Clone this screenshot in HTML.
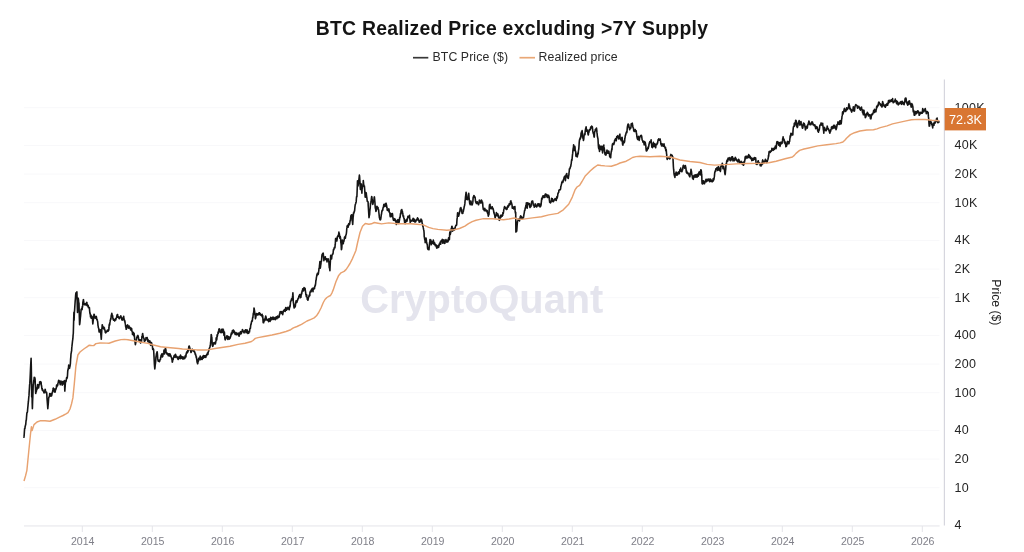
<!DOCTYPE html>
<html><head><meta charset="utf-8"><title>BTC Realized Price excluding &gt;7Y Supply</title>
<style>
html,body{margin:0;padding:0;background:#fff;}
body{width:1024px;height:552px;position:relative;overflow:hidden;font-family:"Liberation Sans",sans-serif;}
.title{position:absolute;left:0;top:15.5px;width:1024px;text-align:center;font-weight:bold;font-size:19.4px;line-height:24px;color:#141414;letter-spacing:0.25px;white-space:nowrap;}
.legend{position:absolute;left:0;top:49px;width:1024px;height:16px;font-size:12.3px;letter-spacing:0.09px;line-height:16px;color:#2a2a2a;white-space:nowrap;}
.legend span{position:absolute;top:0;}
.legend i{position:absolute;display:block;height:1.7px;top:7.8px;}
svg text{font-family:"Liberation Sans",sans-serif;}
.xl{font-size:10.6px;fill:#7f7f88;}
.yl{font-size:12.5px;letter-spacing:0.3px;fill:#262626;}
.tag{font-size:12.6px;fill:#fff;}
.at{font-size:12.2px;fill:#222;}
</style></head><body>
<div class="title">BTC Realized Price excluding &gt;7Y Supply</div>
<div class="legend"><span style="left:432.5px">BTC Price ($)</span><span style="left:538.5px">Realized price</span></div>
<svg width="1024" height="552" viewBox="0 0 1024 552" style="position:absolute;left:0;top:0">
<line x1="24" x2="939.5" y1="525.5" y2="525.5" stroke="#f8f8fa" stroke-width="1"/>
<line x1="24" x2="939.5" y1="487.7" y2="487.7" stroke="#f8f8fa" stroke-width="1"/>
<line x1="24" x2="939.5" y1="459.1" y2="459.1" stroke="#f8f8fa" stroke-width="1"/>
<line x1="24" x2="939.5" y1="430.5" y2="430.5" stroke="#f8f8fa" stroke-width="1"/>
<line x1="24" x2="939.5" y1="392.7" y2="392.7" stroke="#f8f8fa" stroke-width="1"/>
<line x1="24" x2="939.5" y1="364.1" y2="364.1" stroke="#f8f8fa" stroke-width="1"/>
<line x1="24" x2="939.5" y1="335.5" y2="335.5" stroke="#f8f8fa" stroke-width="1"/>
<line x1="24" x2="939.5" y1="297.7" y2="297.7" stroke="#f8f8fa" stroke-width="1"/>
<line x1="24" x2="939.5" y1="269.1" y2="269.1" stroke="#f8f8fa" stroke-width="1"/>
<line x1="24" x2="939.5" y1="240.5" y2="240.5" stroke="#f8f8fa" stroke-width="1"/>
<line x1="24" x2="939.5" y1="202.7" y2="202.7" stroke="#f8f8fa" stroke-width="1"/>
<line x1="24" x2="939.5" y1="174.1" y2="174.1" stroke="#f8f8fa" stroke-width="1"/>
<line x1="24" x2="939.5" y1="145.5" y2="145.5" stroke="#f8f8fa" stroke-width="1"/>
<line x1="24" x2="939.5" y1="107.7" y2="107.7" stroke="#f8f8fa" stroke-width="1"/>
<text x="481.8" y="312.6" text-anchor="middle" font-family="'Liberation Sans',sans-serif" font-weight="bold" font-size="40" fill="#e4e4ed" textLength="243" lengthAdjust="spacingAndGlyphs">CryptoQuant</text>
<line x1="24" x2="939.6" y1="526" y2="526" stroke="#e7e7ec" stroke-width="1.2"/>
<line x1="944.4" x2="944.4" y1="79.5" y2="525.5" stroke="#d6d6de" stroke-width="1.2"/>
<line x1="82.3" x2="82.3" y1="526" y2="532" stroke="#e4e4e9" stroke-width="1"/>
<text x="82.7" y="544.8" text-anchor="middle" class="xl">2014</text>
<line x1="152.3" x2="152.3" y1="526" y2="532" stroke="#e4e4e9" stroke-width="1"/>
<text x="152.7" y="544.8" text-anchor="middle" class="xl">2015</text>
<line x1="222.3" x2="222.3" y1="526" y2="532" stroke="#e4e4e9" stroke-width="1"/>
<text x="222.7" y="544.8" text-anchor="middle" class="xl">2016</text>
<line x1="292.3" x2="292.3" y1="526" y2="532" stroke="#e4e4e9" stroke-width="1"/>
<text x="292.7" y="544.8" text-anchor="middle" class="xl">2017</text>
<line x1="362.3" x2="362.3" y1="526" y2="532" stroke="#e4e4e9" stroke-width="1"/>
<text x="362.7" y="544.8" text-anchor="middle" class="xl">2018</text>
<line x1="432.3" x2="432.3" y1="526" y2="532" stroke="#e4e4e9" stroke-width="1"/>
<text x="432.7" y="544.8" text-anchor="middle" class="xl">2019</text>
<line x1="502.3" x2="502.3" y1="526" y2="532" stroke="#e4e4e9" stroke-width="1"/>
<text x="502.7" y="544.8" text-anchor="middle" class="xl">2020</text>
<line x1="572.3" x2="572.3" y1="526" y2="532" stroke="#e4e4e9" stroke-width="1"/>
<text x="572.7" y="544.8" text-anchor="middle" class="xl">2021</text>
<line x1="642.3" x2="642.3" y1="526" y2="532" stroke="#e4e4e9" stroke-width="1"/>
<text x="642.7" y="544.8" text-anchor="middle" class="xl">2022</text>
<line x1="712.3" x2="712.3" y1="526" y2="532" stroke="#e4e4e9" stroke-width="1"/>
<text x="712.7" y="544.8" text-anchor="middle" class="xl">2023</text>
<line x1="782.3" x2="782.3" y1="526" y2="532" stroke="#e4e4e9" stroke-width="1"/>
<text x="782.7" y="544.8" text-anchor="middle" class="xl">2024</text>
<line x1="852.3" x2="852.3" y1="526" y2="532" stroke="#e4e4e9" stroke-width="1"/>
<text x="852.7" y="544.8" text-anchor="middle" class="xl">2025</text>
<line x1="922.3" x2="922.3" y1="526" y2="532" stroke="#e4e4e9" stroke-width="1"/>
<text x="922.7" y="544.8" text-anchor="middle" class="xl">2026</text>
<text x="954.6" y="529.4" class="yl">4</text>
<text x="954.6" y="491.6" class="yl">10</text>
<text x="954.6" y="463.0" class="yl">20</text>
<text x="954.6" y="434.4" class="yl">40</text>
<text x="954.6" y="396.6" class="yl">100</text>
<text x="954.6" y="368.0" class="yl">200</text>
<text x="954.6" y="339.4" class="yl">400</text>
<text x="954.6" y="301.6" class="yl">1K</text>
<text x="954.6" y="273.0" class="yl">2K</text>
<text x="954.6" y="244.4" class="yl">4K</text>
<text x="954.6" y="206.6" class="yl">10K</text>
<text x="954.6" y="178.0" class="yl">20K</text>
<text x="954.6" y="149.4" class="yl">40K</text>
<text x="954.6" y="111.6" class="yl">100K</text>
<path d="M23.8 437.8 L24.0 436.7 L24.2 434.8 L24.4 431.6 L24.6 428.5 L24.8 428.8 L25.0 428.3 L25.1 426.6 L25.3 426.1 L25.5 425.0 L25.7 424.7 L25.9 422.5 L26.1 420.4 L26.3 420.2 L26.5 417.5 L26.7 415.1 L26.9 412.8 L27.1 412.6 L27.3 412.4 L27.5 411.3 L27.6 409.8 L27.8 407.5 L28.0 405.6 L28.2 403.1 L28.4 401.7 L28.6 399.4 L28.8 397.0 L29.0 395.4 L29.2 391.4 L29.4 388.6 L29.6 385.1 L29.8 383.4 L29.9 381.9 L30.1 378.1 L30.3 374.1 L30.5 369.4 L30.7 365.1 L30.9 361.5 L31.1 358.3 L31.3 366.2 L31.5 380.6 L31.7 397.0 L31.9 396.0 L32.1 394.8 L32.2 402.5 L32.4 408.6 L32.6 401.2 L32.8 397.0 L33.0 391.2 L33.2 385.2 L33.4 384.2 L33.6 382.0 L33.8 380.3 L34.0 379.9 L34.2 377.4 L34.4 377.8 L34.5 377.9 L34.7 377.5 L34.9 378.2 L35.1 379.1 L35.3 384.8 L35.5 388.5 L35.7 393.5 L35.9 392.4 L36.1 392.1 L36.3 391.5 L36.5 390.5 L36.7 387.7 L36.8 388.8 L37.0 389.4 L37.2 388.3 L37.4 386.0 L37.6 384.6 L37.8 385.6 L38.0 387.3 L38.2 386.7 L38.4 387.1 L38.6 388.0 L38.8 386.7 L39.0 385.4 L39.1 384.9 L39.3 384.4 L39.5 383.7 L39.7 381.9 L39.9 381.7 L40.1 381.7 L40.3 381.6 L40.5 383.6 L40.7 382.8 L40.9 382.3 L41.1 382.2 L41.3 384.8 L41.5 386.0 L41.6 385.8 L41.8 388.2 L42.0 389.0 L42.2 388.6 L42.4 390.5 L42.6 389.5 L42.8 389.7 L43.0 390.6 L43.2 391.0 L43.4 391.1 L43.6 391.7 L43.8 391.3 L43.9 392.7 L44.1 392.9 L44.3 391.7 L44.5 391.4 L44.7 392.1 L44.9 390.9 L45.1 389.3 L45.3 389.5 L45.5 391.2 L45.7 391.7 L45.9 392.2 L46.1 392.9 L46.2 391.9 L46.4 393.2 L46.6 392.3 L46.8 394.0 L47.0 398.1 L47.2 400.8 L47.4 403.1 L47.6 405.6 L47.8 408.6 L48.0 406.5 L48.2 404.4 L48.4 401.9 L48.5 400.2 L48.7 398.0 L48.9 397.3 L49.1 397.2 L49.3 396.3 L49.5 395.6 L49.7 393.5 L49.9 393.6 L50.1 394.5 L50.3 395.3 L50.5 395.8 L50.7 395.3 L50.8 396.1 L51.0 396.1 L51.2 393.6 L51.4 395.5 L51.6 395.9 L51.8 394.9 L52.0 393.8 L52.2 392.9 L52.4 392.6 L52.6 391.3 L52.8 390.3 L53.0 390.8 L53.1 388.4 L53.3 388.0 L53.5 388.5 L53.7 388.6 L53.9 388.8 L54.1 388.8 L54.3 391.5 L54.5 391.9 L54.7 390.9 L54.9 392.1 L55.1 392.1 L55.3 391.1 L55.5 390.3 L55.6 388.8 L55.8 389.6 L56.0 389.0 L56.2 388.5 L56.4 387.0 L56.6 385.0 L56.8 386.8 L57.0 384.8 L57.2 385.8 L57.4 384.6 L57.6 385.6 L57.8 384.9 L57.9 383.3 L58.1 382.9 L58.3 382.2 L58.5 380.9 L58.7 380.3 L58.9 381.5 L59.1 381.1 L59.3 381.2 L59.5 382.6 L59.7 381.0 L59.9 383.2 L60.1 383.5 L60.2 384.8 L60.4 384.2 L60.6 383.0 L60.8 382.2 L61.0 381.0 L61.2 382.0 L61.4 383.0 L61.6 381.9 L61.8 382.8 L62.0 383.8 L62.2 385.2 L62.4 383.9 L62.5 383.1 L62.7 381.6 L62.9 382.5 L63.1 382.6 L63.3 383.9 L63.5 383.3 L63.7 381.9 L63.9 382.9 L64.1 381.5 L64.3 380.6 L64.5 380.9 L64.7 387.7 L64.8 391.1 L65.0 388.2 L65.2 385.9 L65.4 382.5 L65.6 382.1 L65.8 380.6 L66.0 381.6 L66.2 380.5 L66.4 379.0 L66.6 377.6 L66.8 377.8 L67.0 378.5 L67.1 377.5 L67.3 377.4 L67.5 375.2 L67.7 371.7 L67.9 369.8 L68.1 370.0 L68.3 368.3 L68.5 368.0 L68.7 365.1 L68.9 365.8 L69.1 367.3 L69.3 368.3 L69.5 368.4 L69.6 368.1 L69.8 366.5 L70.0 366.3 L70.2 365.0 L70.4 363.3 L70.6 359.1 L70.8 357.2 L71.0 353.8 L71.2 353.1 L71.4 351.6 L71.6 351.0 L71.8 347.4 L71.9 346.7 L72.1 344.8 L72.3 343.1 L72.5 341.2 L72.7 339.8 L72.9 338.2 L73.1 335.0 L73.3 333.5 L73.5 326.4 L73.7 318.8 L73.9 312.4 L74.1 320.2 L74.2 317.0 L74.4 312.2 L74.6 310.1 L74.8 306.9 L75.0 303.8 L75.2 300.9 L75.4 298.8 L75.6 295.9 L75.8 293.6 L76.0 292.7 L76.2 295.5 L76.4 297.4 L76.5 297.7 L76.7 294.6 L76.9 291.9 L77.1 298.7 L77.3 306.3 L77.5 312.4 L77.7 307.8 L77.9 301.6 L78.1 298.1 L78.3 298.5 L78.5 299.8 L78.7 302.5 L78.8 302.5 L79.0 303.4 L79.2 311.8 L79.4 318.8 L79.6 324.7 L79.8 323.7 L80.0 321.6 L80.2 319.5 L80.4 317.4 L80.6 315.8 L80.8 313.1 L81.0 311.1 L81.1 309.4 L81.3 310.1 L81.5 309.4 L81.7 308.4 L81.9 308.9 L82.1 309.6 L82.3 306.5 L82.5 307.1 L82.7 305.4 L82.9 301.9 L83.1 301.7 L83.3 299.8 L83.5 299.7 L83.6 301.5 L83.8 302.6 L84.0 303.4 L84.2 304.5 L84.4 304.7 L84.6 304.5 L84.8 303.8 L85.0 303.9 L85.2 303.9 L85.4 304.8 L85.6 304.9 L85.8 303.9 L85.9 303.6 L86.1 304.2 L86.3 304.9 L86.5 302.9 L86.7 302.4 L86.9 302.5 L87.1 305.7 L87.3 305.7 L87.5 305.9 L87.7 304.9 L87.9 305.2 L88.1 305.9 L88.2 305.6 L88.4 307.8 L88.6 307.1 L88.8 307.0 L89.0 307.9 L89.2 308.0 L89.4 307.6 L89.6 310.4 L89.8 312.5 L90.0 313.6 L90.2 314.1 L90.4 315.2 L90.5 316.9 L90.7 315.5 L90.9 314.9 L91.1 316.5 L91.3 318.3 L91.5 317.1 L91.7 317.1 L91.9 316.3 L92.1 316.5 L92.3 318.3 L92.5 319.0 L92.7 322.2 L92.8 323.9 L93.0 322.4 L93.2 320.4 L93.4 319.5 L93.6 318.1 L93.8 316.1 L94.0 314.2 L94.2 314.5 L94.4 315.2 L94.6 316.4 L94.8 316.6 L95.0 317.4 L95.1 317.9 L95.3 318.2 L95.5 317.9 L95.7 317.7 L95.9 317.2 L96.1 316.9 L96.3 316.4 L96.5 317.4 L96.7 319.4 L96.9 319.8 L97.1 319.5 L97.3 319.9 L97.5 320.9 L97.6 321.3 L97.8 323.0 L98.0 325.6 L98.2 326.3 L98.4 328.0 L98.6 328.0 L98.8 328.8 L99.0 331.2 L99.2 332.0 L99.4 330.2 L99.6 330.2 L99.8 331.1 L99.9 331.5 L100.1 330.6 L100.3 329.7 L100.5 332.1 L100.7 333.1 L100.9 334.9 L101.1 337.4 L101.3 339.3 L101.5 335.2 L101.7 331.8 L101.9 328.3 L102.1 327.0 L102.2 324.7 L102.4 325.1 L102.6 326.5 L102.8 326.5 L103.0 327.0 L103.2 327.2 L103.4 328.5 L103.6 327.1 L103.8 327.0 L104.0 328.4 L104.2 329.4 L104.4 327.9 L104.5 329.4 L104.7 329.7 L104.9 329.8 L105.1 330.9 L105.3 332.5 L105.5 332.7 L105.7 332.8 L105.9 332.1 L106.1 331.7 L106.3 332.1 L106.5 331.7 L106.7 331.6 L106.8 331.2 L107.0 330.9 L107.2 330.9 L107.4 330.1 L107.6 330.9 L107.8 331.3 L108.0 331.1 L108.2 331.1 L108.4 330.0 L108.6 330.6 L108.8 329.8 L109.0 327.7 L109.1 325.7 L109.3 324.3 L109.5 324.0 L109.7 325.0 L109.9 322.7 L110.1 321.7 L110.3 320.2 L110.5 319.8 L110.7 318.6 L110.9 319.2 L111.1 317.1 L111.3 315.0 L111.5 315.7 L111.6 314.5 L111.8 313.2 L112.0 314.2 L112.2 315.3 L112.4 315.6 L112.6 315.5 L112.8 317.8 L113.0 318.8 L113.2 319.5 L113.4 319.9 L113.6 320.1 L113.8 319.6 L113.9 319.5 L114.1 320.2 L114.3 320.1 L114.5 320.5 L114.7 321.0 L114.9 320.5 L115.1 319.9 L115.3 318.8 L115.5 319.6 L115.7 320.0 L115.9 319.3 L116.1 318.7 L116.2 318.3 L116.4 317.6 L116.6 317.6 L116.8 316.1 L117.0 315.2 L117.2 314.7 L117.4 314.9 L117.6 314.5 L117.8 316.6 L118.0 317.1 L118.2 316.5 L118.4 317.4 L118.5 317.1 L118.7 316.9 L118.9 318.2 L119.1 318.4 L119.3 318.6 L119.5 318.1 L119.7 317.4 L119.9 317.2 L120.1 317.8 L120.3 317.6 L120.5 317.4 L120.7 316.4 L120.8 315.9 L121.0 316.3 L121.2 317.4 L121.4 317.8 L121.6 318.5 L121.8 319.5 L122.0 319.6 L122.2 320.1 L122.4 320.0 L122.6 319.4 L122.8 319.8 L123.0 317.7 L123.1 318.1 L123.3 317.2 L123.5 317.2 L123.7 316.2 L123.9 318.7 L124.1 319.6 L124.3 319.5 L124.5 320.8 L124.7 320.4 L124.9 322.0 L125.1 322.7 L125.3 323.9 L125.5 324.9 L125.6 326.3 L125.8 327.2 L126.0 327.5 L126.2 329.3 L126.4 327.9 L126.6 328.6 L126.8 328.1 L127.0 325.8 L127.2 325.7 L127.4 325.5 L127.6 324.9 L127.8 325.4 L127.9 326.7 L128.1 327.0 L128.3 327.0 L128.5 326.8 L128.7 328.2 L128.9 327.0 L129.1 326.0 L129.3 326.6 L129.5 326.9 L129.7 328.0 L129.9 327.2 L130.1 328.5 L130.2 328.4 L130.4 329.0 L130.6 329.9 L130.8 329.3 L131.0 328.1 L131.2 328.3 L131.4 329.1 L131.6 328.4 L131.8 330.1 L132.0 331.5 L132.2 331.7 L132.4 332.3 L132.5 334.5 L132.7 332.5 L132.9 332.8 L133.1 332.3 L133.3 333.2 L133.5 333.5 L133.7 335.6 L133.9 334.3 L134.1 333.3 L134.3 335.0 L134.5 336.9 L134.7 339.8 L134.8 339.9 L135.0 341.7 L135.2 343.1 L135.4 344.7 L135.6 343.3 L135.8 342.9 L136.0 341.4 L136.2 341.3 L136.4 339.8 L136.6 338.7 L136.8 337.5 L137.0 336.9 L137.1 337.0 L137.3 336.0 L137.5 336.9 L137.7 335.8 L137.9 335.4 L138.1 336.0 L138.3 336.9 L138.5 338.0 L138.7 339.3 L138.9 340.1 L139.1 340.5 L139.3 340.8 L139.5 341.0 L139.6 339.7 L139.8 341.1 L140.0 341.9 L140.2 339.8 L140.4 342.4 L140.6 342.9 L140.8 342.7 L141.0 342.5 L141.2 342.0 L141.4 342.2 L141.6 340.2 L141.8 338.6 L141.9 336.2 L142.1 336.4 L142.3 335.7 L142.5 334.1 L142.7 333.5 L142.9 335.5 L143.1 335.8 L143.3 337.4 L143.5 337.7 L143.7 337.9 L143.9 338.6 L144.1 339.0 L144.2 340.1 L144.4 341.3 L144.6 341.1 L144.8 340.4 L145.0 340.8 L145.2 340.7 L145.4 339.7 L145.6 340.4 L145.8 339.5 L146.0 337.5 L146.2 337.8 L146.4 338.2 L146.5 338.8 L146.7 337.7 L146.9 337.9 L147.1 337.5 L147.3 338.6 L147.5 339.1 L147.7 339.6 L147.9 341.6 L148.1 340.5 L148.3 339.9 L148.5 341.9 L148.7 341.4 L148.8 341.8 L149.0 341.6 L149.2 341.1 L149.4 342.5 L149.6 342.5 L149.8 340.9 L150.0 341.3 L150.2 342.2 L150.4 343.4 L150.6 345.1 L150.8 345.3 L151.0 344.1 L151.1 344.1 L151.3 344.4 L151.5 342.6 L151.7 343.6 L151.9 344.8 L152.1 344.7 L152.3 345.2 L152.5 347.3 L152.7 349.5 L152.9 348.9 L153.1 348.4 L153.3 349.3 L153.5 349.2 L153.6 349.5 L153.8 352.7 L154.0 356.4 L154.2 360.1 L154.4 364.1 L154.6 366.7 L154.8 368.9 L155.0 367.5 L155.2 364.9 L155.4 363.9 L155.6 362.1 L155.8 360.0 L155.9 357.2 L156.1 356.3 L156.3 355.0 L156.5 353.5 L156.7 353.7 L156.9 352.4 L157.1 351.7 L157.3 352.7 L157.5 355.1 L157.7 358.4 L157.9 359.7 L158.1 360.7 L158.2 361.2 L158.4 360.1 L158.6 360.3 L158.8 360.8 L159.0 360.2 L159.2 361.4 L159.4 361.7 L159.6 361.4 L159.8 360.2 L160.0 360.0 L160.2 359.4 L160.4 359.7 L160.5 359.1 L160.7 357.1 L160.9 357.4 L161.1 355.0 L161.3 355.5 L161.5 355.3 L161.7 355.0 L161.9 353.9 L162.1 355.0 L162.3 356.9 L162.5 356.7 L162.7 356.3 L162.8 356.1 L163.0 353.9 L163.2 354.1 L163.4 354.2 L163.6 352.9 L163.8 352.2 L164.0 350.1 L164.2 351.0 L164.4 351.0 L164.6 353.9 L164.8 352.6 L165.0 352.5 L165.1 351.1 L165.3 348.5 L165.5 348.1 L165.7 348.9 L165.9 350.0 L166.1 351.4 L166.3 352.6 L166.5 352.5 L166.7 353.1 L166.9 353.6 L167.1 354.1 L167.3 353.5 L167.5 353.4 L167.6 353.9 L167.8 353.6 L168.0 354.1 L168.2 355.6 L168.4 354.3 L168.6 354.0 L168.8 355.2 L169.0 354.3 L169.2 354.2 L169.4 355.9 L169.6 354.6 L169.8 354.5 L169.9 353.9 L170.1 354.0 L170.3 354.4 L170.5 356.2 L170.7 355.5 L170.9 355.7 L171.1 356.8 L171.3 357.3 L171.5 358.0 L171.7 358.1 L171.9 359.3 L172.1 360.2 L172.2 362.0 L172.4 362.1 L172.6 361.2 L172.8 359.5 L173.0 359.6 L173.2 359.4 L173.4 357.6 L173.6 357.6 L173.8 357.2 L174.0 355.9 L174.2 356.3 L174.4 355.4 L174.5 356.5 L174.7 356.6 L174.9 357.0 L175.1 357.3 L175.3 356.4 L175.5 354.2 L175.7 355.1 L175.9 355.9 L176.1 355.7 L176.3 357.0 L176.5 356.7 L176.7 356.4 L176.8 356.9 L177.0 356.6 L177.2 357.9 L177.4 357.0 L177.6 358.3 L177.8 358.8 L178.0 359.2 L178.2 359.4 L178.4 358.4 L178.6 358.1 L178.8 358.3 L179.0 357.6 L179.1 356.6 L179.3 357.1 L179.5 357.3 L179.7 356.6 L179.9 356.9 L180.1 358.7 L180.3 356.8 L180.5 355.1 L180.7 357.6 L180.9 358.2 L181.1 358.3 L181.3 357.3 L181.5 356.6 L181.6 356.9 L181.8 357.9 L182.0 357.7 L182.2 356.7 L182.4 357.7 L182.6 358.7 L182.8 358.0 L183.0 359.1 L183.2 358.6 L183.4 358.3 L183.6 357.1 L183.8 357.0 L183.9 357.1 L184.1 357.6 L184.3 357.8 L184.5 358.6 L184.7 358.7 L184.9 358.1 L185.1 357.1 L185.3 355.6 L185.5 355.6 L185.7 355.2 L185.9 356.9 L186.1 354.3 L186.2 354.2 L186.4 353.5 L186.6 352.2 L186.8 352.8 L187.0 351.9 L187.2 351.4 L187.4 352.8 L187.6 352.0 L187.8 350.3 L188.0 351.7 L188.2 350.5 L188.4 349.8 L188.5 348.9 L188.7 348.0 L188.9 346.2 L189.1 346.0 L189.3 346.0 L189.5 347.2 L189.7 347.4 L189.9 349.0 L190.1 350.0 L190.3 349.1 L190.5 349.5 L190.7 350.5 L190.8 351.7 L191.0 352.5 L191.2 352.4 L191.4 351.5 L191.6 351.1 L191.8 350.6 L192.0 350.7 L192.2 349.4 L192.4 349.9 L192.6 350.5 L192.8 349.6 L193.0 349.7 L193.1 350.1 L193.3 350.8 L193.5 351.1 L193.7 350.6 L193.9 350.4 L194.1 351.7 L194.3 351.4 L194.5 351.4 L194.7 352.5 L194.9 352.5 L195.1 353.5 L195.3 354.6 L195.5 354.6 L195.6 354.0 L195.8 355.5 L196.0 355.8 L196.2 357.4 L196.4 356.8 L196.6 358.9 L196.8 359.4 L197.0 361.6 L197.2 362.5 L197.4 361.9 L197.6 363.8 L197.8 363.5 L197.9 362.4 L198.1 361.8 L198.3 361.8 L198.5 359.1 L198.7 358.3 L198.9 359.6 L199.1 358.4 L199.3 359.8 L199.5 358.3 L199.7 358.6 L199.9 358.1 L200.1 356.5 L200.2 356.1 L200.4 357.7 L200.6 359.6 L200.8 358.7 L201.0 358.2 L201.2 359.2 L201.4 358.6 L201.6 358.3 L201.8 357.4 L202.0 359.4 L202.2 359.4 L202.4 358.3 L202.5 357.3 L202.7 356.2 L202.9 358.3 L203.1 358.3 L203.3 358.0 L203.5 355.6 L203.7 356.8 L203.9 357.2 L204.1 357.4 L204.3 356.7 L204.5 357.3 L204.7 355.9 L204.8 356.4 L205.0 355.8 L205.2 356.1 L205.4 355.7 L205.6 356.1 L205.8 357.4 L206.0 356.1 L206.2 355.5 L206.4 355.9 L206.6 355.4 L206.8 354.2 L207.0 355.0 L207.1 354.8 L207.3 354.1 L207.5 353.0 L207.7 352.9 L207.9 354.4 L208.1 352.7 L208.3 351.9 L208.5 351.3 L208.7 351.1 L208.9 349.7 L209.1 348.9 L209.3 348.8 L209.5 348.3 L209.6 347.8 L209.8 347.2 L210.0 347.2 L210.2 345.4 L210.4 345.5 L210.6 342.4 L210.8 341.0 L211.0 338.3 L211.2 334.5 L211.4 335.0 L211.6 336.4 L211.8 337.1 L211.9 338.7 L212.1 342.1 L212.3 344.4 L212.5 346.0 L212.7 346.4 L212.9 346.1 L213.1 345.3 L213.3 344.4 L213.5 343.4 L213.7 342.7 L213.9 342.8 L214.1 342.6 L214.2 342.5 L214.4 342.6 L214.6 342.5 L214.8 343.9 L215.0 343.9 L215.2 343.7 L215.4 343.8 L215.6 342.9 L215.8 341.6 L216.0 340.9 L216.2 337.9 L216.4 339.7 L216.5 339.0 L216.7 340.0 L216.9 338.2 L217.1 334.7 L217.3 336.3 L217.5 335.3 L217.7 334.0 L217.9 333.4 L218.1 332.0 L218.3 333.4 L218.5 331.7 L218.7 330.4 L218.8 329.6 L219.0 329.3 L219.2 328.7 L219.4 329.3 L219.6 329.1 L219.8 329.7 L220.0 332.0 L220.2 332.1 L220.4 331.9 L220.6 331.4 L220.8 332.4 L221.0 332.6 L221.1 332.2 L221.3 332.2 L221.5 331.2 L221.7 329.4 L221.9 330.4 L222.1 332.5 L222.3 331.8 L222.5 330.5 L222.7 329.7 L222.9 329.0 L223.1 329.8 L223.3 330.6 L223.4 329.9 L223.6 331.4 L223.8 333.7 L224.0 335.3 L224.2 333.4 L224.4 332.0 L224.6 334.7 L224.8 337.5 L225.0 339.3 L225.2 339.8 L225.4 338.3 L225.6 338.1 L225.7 339.0 L225.9 337.5 L226.1 337.8 L226.3 337.4 L226.5 336.8 L226.7 336.6 L226.9 335.7 L227.1 335.8 L227.3 337.0 L227.5 338.6 L227.7 339.3 L227.8 339.5 L228.0 338.9 L228.2 338.3 L228.4 337.2 L228.6 336.6 L228.8 336.8 L229.0 337.0 L229.2 339.0 L229.4 339.1 L229.6 338.5 L229.8 337.9 L230.0 338.0 L230.1 338.1 L230.3 337.1 L230.5 337.0 L230.7 336.2 L230.9 335.5 L231.1 334.8 L231.3 333.1 L231.5 333.2 L231.7 333.1 L231.9 333.4 L232.1 333.8 L232.2 331.8 L232.4 330.6 L232.6 331.2 L232.8 331.3 L233.0 330.7 L233.2 330.6 L233.4 330.0 L233.6 331.8 L233.8 332.6 L234.0 332.3 L234.2 331.0 L234.3 331.1 L234.5 332.1 L234.7 332.6 L234.9 333.4 L235.1 334.4 L235.3 333.0 L235.5 333.8 L235.7 334.5 L235.9 333.1 L236.1 332.7 L236.3 333.1 L236.5 334.4 L236.6 334.8 L236.8 333.9 L237.0 334.0 L237.2 333.5 L237.4 334.2 L237.6 333.9 L237.8 334.3 L238.0 334.1 L238.2 333.0 L238.4 334.7 L238.6 334.9 L238.7 334.9 L238.9 335.7 L239.1 336.2 L239.3 335.6 L239.5 333.9 L239.7 333.1 L239.9 332.7 L240.1 334.1 L240.3 332.0 L240.5 331.8 L240.7 331.7 L240.9 332.7 L241.0 332.6 L241.2 333.6 L241.4 333.4 L241.6 332.4 L241.8 331.9 L242.0 331.1 L242.2 331.5 L242.4 329.6 L242.6 329.7 L242.8 331.0 L243.0 330.7 L243.1 331.0 L243.3 331.5 L243.5 331.8 L243.7 331.5 L243.9 332.7 L244.1 332.8 L244.3 331.4 L244.5 330.7 L244.7 330.8 L244.9 330.7 L245.1 330.8 L245.3 330.8 L245.4 329.9 L245.6 329.9 L245.8 332.1 L246.0 332.0 L246.2 332.7 L246.4 331.9 L246.6 332.4 L246.8 332.1 L247.0 329.8 L247.2 330.6 L247.4 330.8 L247.5 331.2 L247.7 332.6 L247.9 333.5 L248.1 332.1 L248.3 331.8 L248.5 332.7 L248.7 333.2 L248.9 331.6 L249.1 331.4 L249.3 332.0 L249.5 331.9 L249.6 330.8 L249.8 329.1 L250.0 328.3 L250.2 328.4 L250.4 328.4 L250.6 326.3 L250.8 324.6 L251.0 324.6 L251.2 323.8 L251.4 322.5 L251.6 321.4 L251.8 320.8 L251.9 321.1 L252.1 320.5 L252.3 321.1 L252.5 318.9 L252.7 317.4 L252.9 317.6 L253.1 315.2 L253.3 313.3 L253.5 314.2 L253.7 311.9 L253.9 310.6 L254.0 308.0 L254.2 308.7 L254.4 310.0 L254.6 311.4 L254.8 313.0 L255.0 314.7 L255.2 315.5 L255.4 318.8 L255.6 318.0 L255.8 317.4 L256.0 315.9 L256.2 314.5 L256.3 314.0 L256.5 313.6 L256.7 313.5 L256.9 314.0 L257.1 314.9 L257.3 314.3 L257.5 313.9 L257.7 314.2 L257.9 314.9 L258.1 313.8 L258.3 314.8 L258.4 314.5 L258.6 313.4 L258.8 313.7 L259.0 312.9 L259.2 314.1 L259.4 313.1 L259.6 312.9 L259.8 314.5 L260.0 314.0 L260.2 315.0 L260.4 313.9 L260.6 314.7 L260.7 315.0 L260.9 314.8 L261.1 315.3 L261.3 315.2 L261.5 315.6 L261.7 314.8 L261.9 314.7 L262.1 314.3 L262.3 316.9 L262.5 315.7 L262.7 315.5 L262.8 317.2 L263.0 320.1 L263.2 322.6 L263.4 321.6 L263.6 322.8 L263.8 321.4 L264.0 321.6 L264.2 319.3 L264.4 319.6 L264.6 319.0 L264.8 319.5 L265.0 320.5 L265.1 319.4 L265.3 318.4 L265.5 316.9 L265.7 316.0 L265.9 316.5 L266.1 318.1 L266.3 318.7 L266.5 319.3 L266.7 320.0 L266.9 319.7 L267.1 319.5 L267.2 320.0 L267.4 320.1 L267.6 320.4 L267.8 320.4 L268.0 319.9 L268.2 319.1 L268.4 320.0 L268.6 321.7 L268.8 320.5 L269.0 320.2 L269.2 318.8 L269.3 320.2 L269.5 320.2 L269.7 319.9 L269.9 321.1 L270.1 321.4 L270.3 320.4 L270.5 319.1 L270.7 317.2 L270.9 318.1 L271.1 319.6 L271.3 319.2 L271.5 318.3 L271.6 318.2 L271.8 319.6 L272.0 318.9 L272.2 318.1 L272.4 317.7 L272.6 318.2 L272.8 317.9 L273.0 317.1 L273.2 317.6 L273.4 319.4 L273.6 319.0 L273.7 318.5 L273.9 318.5 L274.1 317.6 L274.3 318.1 L274.5 318.2 L274.7 319.2 L274.9 319.4 L275.1 318.6 L275.3 319.6 L275.5 318.3 L275.7 317.5 L275.9 317.5 L276.0 317.7 L276.2 316.7 L276.4 317.6 L276.6 317.8 L276.8 318.8 L277.0 318.4 L277.2 317.1 L277.4 316.6 L277.6 316.2 L277.8 316.5 L278.0 316.3 L278.1 317.8 L278.3 316.8 L278.5 316.5 L278.7 317.0 L278.9 317.1 L279.1 317.2 L279.3 315.7 L279.5 314.0 L279.7 314.7 L279.9 313.2 L280.1 311.7 L280.3 311.6 L280.4 312.4 L280.6 312.6 L280.8 312.7 L281.0 311.8 L281.2 311.6 L281.4 313.1 L281.6 312.3 L281.8 313.3 L282.0 311.8 L282.2 312.9 L282.4 313.5 L282.5 314.3 L282.7 314.7 L282.9 313.4 L283.1 312.4 L283.3 311.8 L283.5 310.6 L283.7 311.4 L283.9 311.1 L284.1 310.8 L284.3 311.0 L284.5 309.6 L284.6 309.6 L284.8 309.6 L285.0 310.0 L285.2 311.4 L285.4 310.2 L285.6 308.3 L285.8 307.5 L286.0 307.8 L286.2 309.8 L286.4 310.2 L286.6 309.6 L286.8 309.8 L286.9 309.5 L287.1 308.5 L287.3 308.0 L287.5 309.0 L287.7 308.5 L287.9 307.2 L288.1 308.2 L288.3 308.1 L288.5 309.0 L288.7 308.6 L288.9 307.5 L289.0 308.1 L289.2 309.8 L289.4 308.3 L289.6 307.7 L289.8 305.9 L290.0 307.0 L290.2 305.7 L290.4 303.4 L290.6 301.1 L290.8 301.3 L291.0 301.0 L291.2 301.0 L291.3 300.0 L291.5 298.9 L291.7 298.8 L291.9 300.0 L292.1 299.3 L292.3 298.6 L292.5 296.8 L292.7 295.4 L292.9 292.7 L293.1 296.6 L293.3 302.0 L293.5 303.5 L293.6 303.6 L293.8 305.9 L294.0 307.3 L294.2 307.9 L294.4 306.3 L294.6 305.4 L294.8 306.3 L295.0 307.1 L295.2 306.5 L295.4 305.7 L295.6 302.7 L295.8 303.3 L295.9 301.8 L296.1 300.7 L296.3 302.1 L296.5 302.6 L296.7 302.1 L296.9 302.3 L297.1 301.7 L297.3 300.5 L297.5 300.5 L297.7 299.3 L297.9 299.2 L298.1 299.0 L298.2 298.2 L298.4 298.6 L298.6 298.1 L298.8 296.3 L299.0 296.1 L299.2 296.1 L299.4 295.1 L299.6 295.3 L299.8 294.5 L300.0 296.1 L300.2 295.7 L300.4 296.5 L300.5 297.6 L300.7 296.2 L300.9 297.3 L301.1 295.4 L301.3 294.6 L301.5 293.0 L301.7 293.8 L301.9 292.5 L302.1 290.9 L302.3 290.9 L302.5 290.9 L302.7 288.8 L302.8 289.1 L303.0 289.9 L303.2 290.9 L303.4 290.9 L303.6 290.2 L303.8 289.6 L304.0 287.5 L304.2 288.6 L304.4 288.8 L304.6 288.1 L304.8 289.8 L305.0 289.5 L305.1 288.4 L305.3 290.5 L305.5 291.7 L305.7 292.9 L305.9 294.9 L306.1 294.6 L306.3 296.6 L306.5 296.2 L306.7 294.9 L306.9 296.7 L307.1 297.2 L307.3 299.3 L307.5 298.7 L307.6 299.6 L307.8 300.1 L308.0 300.2 L308.2 298.8 L308.4 298.1 L308.6 297.2 L308.8 296.8 L309.0 295.7 L309.2 295.9 L309.4 294.9 L309.6 295.9 L309.8 295.6 L309.9 292.8 L310.1 291.8 L310.3 292.2 L310.5 291.1 L310.7 291.2 L310.9 291.9 L311.1 291.8 L311.3 290.2 L311.5 289.5 L311.7 289.2 L311.9 289.8 L312.1 290.5 L312.2 288.8 L312.4 288.2 L312.6 288.8 L312.8 290.6 L313.0 291.6 L313.2 288.8 L313.4 289.4 L313.6 288.9 L313.8 288.2 L314.0 287.7 L314.2 287.5 L314.4 288.3 L314.5 288.7 L314.7 286.5 L314.9 286.7 L315.1 285.3 L315.3 285.6 L315.5 284.5 L315.7 282.8 L315.9 280.4 L316.1 280.2 L316.3 278.4 L316.5 276.9 L316.7 276.5 L316.8 274.9 L317.0 274.6 L317.2 274.3 L317.4 273.2 L317.6 274.9 L317.8 273.9 L318.0 273.8 L318.2 274.2 L318.4 273.5 L318.6 271.7 L318.8 270.8 L319.0 268.3 L319.1 268.2 L319.3 268.2 L319.5 265.4 L319.7 263.8 L319.9 261.6 L320.1 265.6 L320.3 268.1 L320.5 266.8 L320.7 265.2 L320.9 264.1 L321.1 261.9 L321.3 261.6 L321.5 260.4 L321.6 259.8 L321.8 256.6 L322.0 255.2 L322.2 254.2 L322.4 254.2 L322.6 253.7 L322.8 254.0 L323.0 253.4 L323.2 253.1 L323.4 255.0 L323.6 257.4 L323.8 258.8 L323.9 260.7 L324.1 259.7 L324.3 258.6 L324.5 257.4 L324.7 258.7 L324.9 258.4 L325.1 258.3 L325.3 256.7 L325.5 258.4 L325.7 259.2 L325.9 259.5 L326.1 259.9 L326.2 259.0 L326.4 259.6 L326.6 258.7 L326.8 260.2 L327.0 262.0 L327.2 260.7 L327.4 260.2 L327.6 259.7 L327.8 259.5 L328.0 258.9 L328.2 260.1 L328.4 259.1 L328.5 260.8 L328.7 261.0 L328.9 262.1 L329.1 265.2 L329.3 267.6 L329.5 267.7 L329.7 269.0 L329.9 270.6 L330.1 266.3 L330.3 262.8 L330.5 259.3 L330.7 255.2 L330.8 256.9 L331.0 257.2 L331.2 258.9 L331.4 258.9 L331.6 258.9 L331.8 256.8 L332.0 255.3 L332.2 254.8 L332.4 254.2 L332.6 253.9 L332.8 254.2 L333.0 253.4 L333.1 253.2 L333.3 250.8 L333.5 249.4 L333.7 249.1 L333.9 249.7 L334.1 248.4 L334.3 247.6 L334.5 247.4 L334.7 247.2 L334.9 247.8 L335.1 245.7 L335.3 244.2 L335.5 240.0 L335.6 238.5 L335.8 239.1 L336.0 238.2 L336.2 238.6 L336.4 239.0 L336.6 239.8 L336.8 241.0 L337.0 240.0 L337.2 238.6 L337.4 236.5 L337.6 236.5 L337.8 236.1 L337.9 236.6 L338.1 235.3 L338.3 236.3 L338.5 235.3 L338.7 233.8 L338.9 232.1 L339.1 233.8 L339.3 233.5 L339.5 235.0 L339.7 236.6 L339.9 238.3 L340.1 237.6 L340.2 236.3 L340.4 237.3 L340.6 238.5 L340.8 242.3 L341.0 243.3 L341.2 245.7 L341.4 249.7 L341.6 249.2 L341.8 247.6 L342.0 244.1 L342.2 240.0 L342.4 240.3 L342.5 241.0 L342.7 241.6 L342.9 243.5 L343.1 242.6 L343.3 243.7 L343.5 241.3 L343.7 241.6 L343.9 241.5 L344.1 239.9 L344.3 239.3 L344.5 237.1 L344.7 237.0 L344.8 238.1 L345.0 237.3 L345.2 236.4 L345.4 238.1 L345.6 236.2 L345.8 235.6 L346.0 234.7 L346.2 234.5 L346.4 233.1 L346.6 231.3 L346.8 228.1 L347.0 227.4 L347.1 226.1 L347.3 225.9 L347.5 225.9 L347.7 225.3 L347.9 226.8 L348.1 227.2 L348.3 226.4 L348.5 224.6 L348.7 223.8 L348.9 223.5 L349.1 224.1 L349.3 224.5 L349.5 224.6 L349.6 223.9 L349.8 223.3 L350.0 221.1 L350.2 220.3 L350.4 220.8 L350.6 218.3 L350.8 216.4 L351.0 215.4 L351.2 215.1 L351.4 216.2 L351.6 216.5 L351.8 214.8 L351.9 214.8 L352.1 218.5 L352.3 220.6 L352.5 222.7 L352.7 224.5 L352.9 221.4 L353.1 217.6 L353.3 216.1 L353.5 212.7 L353.7 213.5 L353.9 212.7 L354.1 212.4 L354.2 212.1 L354.4 211.0 L354.6 210.9 L354.8 208.5 L355.0 206.4 L355.2 205.0 L355.4 204.3 L355.6 203.8 L355.8 203.1 L356.0 202.6 L356.2 201.9 L356.4 198.5 L356.5 197.4 L356.7 196.2 L356.9 196.6 L357.1 191.7 L357.3 186.5 L357.5 180.8 L357.7 183.6 L357.9 183.7 L358.1 186.0 L358.3 183.2 L358.5 183.8 L358.7 182.0 L358.8 180.4 L359.0 178.8 L359.2 176.8 L359.4 175.1 L359.6 176.5 L359.8 179.8 L360.0 182.0 L360.2 187.2 L360.4 189.4 L360.6 187.4 L360.8 185.9 L361.0 185.0 L361.1 183.8 L361.3 185.5 L361.5 187.3 L361.7 190.9 L361.9 193.2 L362.1 188.8 L362.3 188.2 L362.5 186.2 L362.7 186.1 L362.9 185.7 L363.1 184.5 L363.3 180.6 L363.5 182.5 L363.6 183.8 L363.8 184.9 L364.0 186.2 L364.2 186.5 L364.4 185.9 L364.6 188.2 L364.8 191.2 L365.0 194.5 L365.2 197.3 L365.4 196.4 L365.6 195.6 L365.8 195.5 L365.9 192.5 L366.1 192.8 L366.3 193.2 L366.5 196.0 L366.7 196.8 L366.9 198.0 L367.1 200.0 L367.3 201.4 L367.5 201.3 L367.7 201.3 L367.9 201.8 L368.1 201.9 L368.2 205.3 L368.4 208.0 L368.6 211.3 L368.8 214.2 L369.0 217.7 L369.2 216.5 L369.4 215.4 L369.6 214.7 L369.8 211.2 L370.0 209.4 L370.2 208.3 L370.4 205.3 L370.5 203.2 L370.7 204.1 L370.9 202.7 L371.1 201.5 L371.3 199.3 L371.5 197.6 L371.7 196.5 L371.9 197.3 L372.1 199.3 L372.3 200.1 L372.5 200.7 L372.7 202.9 L372.8 204.4 L373.0 203.7 L373.2 202.5 L373.4 201.1 L373.6 200.8 L373.8 201.4 L374.0 199.6 L374.2 197.4 L374.4 196.9 L374.6 198.8 L374.8 201.1 L375.0 203.3 L375.1 205.7 L375.3 207.9 L375.5 208.8 L375.7 209.2 L375.9 211.5 L376.1 211.0 L376.3 210.4 L376.5 208.7 L376.7 206.9 L376.9 206.3 L377.1 206.8 L377.3 207.5 L377.5 208.3 L377.6 208.1 L377.8 208.1 L378.0 207.4 L378.2 209.4 L378.4 209.5 L378.6 209.6 L378.8 212.0 L379.0 213.7 L379.2 215.6 L379.4 217.7 L379.6 218.2 L379.8 218.5 L379.9 219.6 L380.1 219.6 L380.3 219.9 L380.5 219.8 L380.7 219.3 L380.9 217.9 L381.1 216.5 L381.3 214.5 L381.5 214.2 L381.7 212.4 L381.9 211.2 L382.1 210.3 L382.2 210.4 L382.4 210.7 L382.6 210.6 L382.8 209.6 L383.0 207.8 L383.2 207.7 L383.4 207.3 L383.6 205.8 L383.8 204.6 L384.0 204.4 L384.2 205.1 L384.4 205.1 L384.5 204.4 L384.7 205.5 L384.9 206.5 L385.1 205.9 L385.3 206.2 L385.5 205.2 L385.7 204.0 L385.9 203.2 L386.1 203.3 L386.3 204.2 L386.5 205.4 L386.7 205.9 L386.8 207.6 L387.0 207.4 L387.2 209.9 L387.4 210.3 L387.6 210.4 L387.8 209.7 L388.0 210.5 L388.2 210.1 L388.4 210.9 L388.6 210.3 L388.8 208.8 L389.0 209.4 L389.1 210.2 L389.3 212.3 L389.5 212.5 L389.7 212.5 L389.9 213.7 L390.1 216.0 L390.3 216.8 L390.5 216.8 L390.7 215.0 L390.9 213.5 L391.1 214.6 L391.3 215.7 L391.5 214.8 L391.6 216.5 L391.8 215.8 L392.0 214.4 L392.2 214.1 L392.4 213.5 L392.6 214.8 L392.8 216.9 L393.0 218.0 L393.2 219.1 L393.4 220.2 L393.6 219.7 L393.8 220.2 L393.9 220.3 L394.1 220.1 L394.3 220.4 L394.5 218.9 L394.7 218.7 L394.9 218.9 L395.1 219.6 L395.3 220.7 L395.5 219.9 L395.7 220.3 L395.9 221.8 L396.1 222.9 L396.2 223.5 L396.4 224.5 L396.6 222.6 L396.8 223.0 L397.0 221.8 L397.2 220.9 L397.4 221.3 L397.6 220.5 L397.8 219.8 L398.0 219.6 L398.2 220.3 L398.4 220.2 L398.5 222.1 L398.7 223.4 L398.9 222.9 L399.1 222.1 L399.3 220.7 L399.5 219.9 L399.7 217.4 L399.9 218.1 L400.1 217.5 L400.3 215.4 L400.5 213.6 L400.7 213.4 L400.8 214.1 L401.0 211.5 L401.2 210.2 L401.4 209.9 L401.6 210.2 L401.8 209.6 L402.0 212.5 L402.2 211.7 L402.4 211.3 L402.6 213.7 L402.8 213.2 L403.0 216.1 L403.1 216.1 L403.3 216.8 L403.5 215.7 L403.7 217.4 L403.9 218.3 L404.1 218.2 L404.3 219.8 L404.5 221.4 L404.7 222.8 L404.9 222.7 L405.1 223.7 L405.3 223.1 L405.5 222.4 L405.6 222.3 L405.8 220.6 L406.0 221.0 L406.2 219.6 L406.4 220.2 L406.6 219.4 L406.8 221.3 L407.0 221.1 L407.2 219.9 L407.4 218.9 L407.6 218.1 L407.8 217.1 L407.9 216.4 L408.1 217.1 L408.3 217.1 L408.5 217.1 L408.7 217.0 L408.9 217.5 L409.1 217.0 L409.3 215.7 L409.5 215.3 L409.7 218.3 L409.9 219.4 L410.1 220.9 L410.2 222.4 L410.4 221.2 L410.6 221.5 L410.8 221.5 L411.0 220.4 L411.2 220.9 L411.4 220.9 L411.6 220.5 L411.8 220.4 L412.0 221.0 L412.2 220.3 L412.4 220.8 L412.5 220.3 L412.7 219.6 L412.9 219.2 L413.1 218.4 L413.3 219.5 L413.5 220.7 L413.7 221.2 L413.9 220.7 L414.1 219.1 L414.3 220.2 L414.5 219.8 L414.7 220.8 L414.8 221.7 L415.0 222.1 L415.2 221.6 L415.4 221.5 L415.6 220.5 L415.8 221.6 L416.0 220.9 L416.2 220.1 L416.4 220.2 L416.6 219.2 L416.8 219.2 L417.0 219.8 L417.1 219.7 L417.3 219.8 L417.5 217.8 L417.7 219.0 L417.9 218.2 L418.1 218.7 L418.3 219.2 L418.5 219.2 L418.7 220.8 L418.9 220.3 L419.1 220.4 L419.3 222.3 L419.5 222.1 L419.6 222.0 L419.8 222.0 L420.0 220.9 L420.2 221.7 L420.4 221.6 L420.6 220.4 L420.8 220.8 L421.0 219.1 L421.2 220.1 L421.4 220.9 L421.6 219.9 L421.8 220.5 L421.9 221.0 L422.1 223.0 L422.3 223.3 L422.5 224.8 L422.7 224.8 L422.9 226.7 L423.1 226.6 L423.3 227.9 L423.5 228.8 L423.7 229.9 L423.9 230.7 L424.1 233.0 L424.2 236.6 L424.4 237.2 L424.6 238.7 L424.8 239.8 L425.0 240.0 L425.2 242.6 L425.4 241.7 L425.6 240.6 L425.8 240.0 L426.0 238.0 L426.2 239.0 L426.4 240.6 L426.5 242.4 L426.7 242.4 L426.9 243.9 L427.1 244.1 L427.3 244.5 L427.5 247.2 L427.7 248.8 L427.9 249.2 L428.1 249.4 L428.3 249.1 L428.5 248.7 L428.7 248.2 L428.8 249.0 L429.0 249.7 L429.2 247.0 L429.4 245.5 L429.6 242.5 L429.8 242.1 L430.0 239.5 L430.2 239.6 L430.4 241.4 L430.6 240.4 L430.8 240.0 L431.0 241.1 L431.1 243.3 L431.3 244.8 L431.5 242.1 L431.7 241.6 L431.9 243.7 L432.1 243.3 L432.3 243.5 L432.5 242.7 L432.7 242.1 L432.9 242.1 L433.1 242.0 L433.3 240.0 L433.5 242.2 L433.6 241.1 L433.8 242.4 L434.0 244.3 L434.2 243.5 L434.4 242.8 L434.6 243.8 L434.8 243.0 L435.0 244.8 L435.2 245.7 L435.4 244.5 L435.6 244.7 L435.8 246.0 L435.9 245.4 L436.1 244.9 L436.3 245.2 L436.5 247.4 L436.7 248.1 L436.9 248.0 L437.1 247.6 L437.3 246.1 L437.5 246.7 L437.7 247.4 L437.9 247.7 L438.1 246.7 L438.2 247.1 L438.4 245.2 L438.6 247.3 L438.8 245.9 L439.0 246.0 L439.2 245.0 L439.4 243.7 L439.6 244.3 L439.8 243.8 L440.0 243.1 L440.2 242.0 L440.4 242.4 L440.5 242.9 L440.7 244.2 L440.9 241.2 L441.1 240.9 L441.3 240.6 L441.5 241.5 L441.7 240.7 L441.9 241.4 L442.1 240.1 L442.3 239.4 L442.5 239.5 L442.7 243.2 L442.8 243.2 L443.0 242.4 L443.2 241.9 L443.4 242.1 L443.6 241.7 L443.8 241.5 L444.0 239.7 L444.2 242.6 L444.4 242.9 L444.6 243.4 L444.8 243.5 L445.0 242.7 L445.1 241.9 L445.3 241.5 L445.5 241.5 L445.7 240.5 L445.9 239.6 L446.1 240.9 L446.3 240.6 L446.5 241.4 L446.7 242.1 L446.9 241.4 L447.1 240.8 L447.3 240.2 L447.5 241.0 L447.6 241.2 L447.8 242.0 L448.0 241.6 L448.2 240.9 L448.4 239.1 L448.6 237.8 L448.8 238.5 L449.0 238.9 L449.2 239.8 L449.4 239.5 L449.6 235.2 L449.8 232.1 L449.9 233.5 L450.1 234.0 L450.3 234.5 L450.5 233.2 L450.7 232.5 L450.9 231.4 L451.1 228.8 L451.3 228.9 L451.5 229.3 L451.7 226.9 L451.9 226.2 L452.1 226.5 L452.2 228.1 L452.4 229.2 L452.6 231.2 L452.8 230.8 L453.0 230.3 L453.2 228.9 L453.4 229.0 L453.6 229.6 L453.8 230.3 L454.0 228.4 L454.2 230.1 L454.4 229.8 L454.5 229.6 L454.7 228.9 L454.9 229.1 L455.1 228.5 L455.3 226.9 L455.5 226.3 L455.7 225.9 L455.9 225.4 L456.1 225.5 L456.3 225.3 L456.5 225.2 L456.7 224.5 L456.8 222.8 L457.0 219.4 L457.2 217.9 L457.4 215.3 L457.6 212.9 L457.8 212.9 L458.0 213.7 L458.2 214.2 L458.4 215.4 L458.6 216.3 L458.8 215.6 L459.0 214.5 L459.1 214.0 L459.3 213.7 L459.5 212.1 L459.7 211.2 L459.9 211.6 L460.1 209.5 L460.3 208.0 L460.5 208.3 L460.7 209.1 L460.9 207.6 L461.1 209.2 L461.3 209.0 L461.5 210.0 L461.6 209.3 L461.8 211.6 L462.0 213.2 L462.2 213.4 L462.4 212.9 L462.6 212.8 L462.8 213.3 L463.0 211.9 L463.2 211.7 L463.4 211.2 L463.6 209.6 L463.8 209.2 L463.9 208.6 L464.1 207.3 L464.3 206.2 L464.5 206.0 L464.7 204.6 L464.9 203.4 L465.1 200.3 L465.3 199.9 L465.5 196.9 L465.7 195.6 L465.9 193.9 L466.1 192.2 L466.2 193.5 L466.4 194.2 L466.6 195.7 L466.8 199.5 L467.0 199.4 L467.2 199.5 L467.4 198.8 L467.6 199.6 L467.8 198.8 L468.0 198.1 L468.2 197.0 L468.4 196.5 L468.5 195.0 L468.7 193.2 L468.9 195.0 L469.1 198.1 L469.3 200.0 L469.5 201.5 L469.7 203.3 L469.9 202.6 L470.1 204.8 L470.3 204.0 L470.5 203.2 L470.7 201.5 L470.8 201.0 L471.0 201.3 L471.2 202.4 L471.4 203.9 L471.6 203.5 L471.8 204.0 L472.0 205.0 L472.2 204.8 L472.4 204.2 L472.6 203.3 L472.8 202.4 L473.0 199.9 L473.1 197.6 L473.3 196.9 L473.5 197.6 L473.7 196.4 L473.9 195.5 L474.1 195.9 L474.3 196.1 L474.5 197.1 L474.7 196.9 L474.9 196.8 L475.1 197.3 L475.3 199.0 L475.5 200.8 L475.6 201.5 L475.8 202.2 L476.0 202.1 L476.2 202.5 L476.4 203.5 L476.6 202.6 L476.8 202.3 L477.0 202.4 L477.2 201.7 L477.4 203.3 L477.6 203.5 L477.8 203.4 L477.9 202.7 L478.1 204.0 L478.3 204.1 L478.5 204.8 L478.7 204.4 L478.9 203.1 L479.1 202.5 L479.3 200.3 L479.5 200.2 L479.7 200.5 L479.9 200.7 L480.1 201.5 L480.2 201.3 L480.4 203.0 L480.6 203.0 L480.8 202.4 L481.0 201.3 L481.2 201.5 L481.4 200.0 L481.6 200.6 L481.8 200.6 L482.0 202.3 L482.2 203.0 L482.4 203.6 L482.5 202.1 L482.7 203.5 L482.9 206.5 L483.1 207.9 L483.3 209.4 L483.5 209.3 L483.7 209.0 L483.9 209.0 L484.1 209.2 L484.3 210.6 L484.5 210.4 L484.7 209.5 L484.8 208.4 L485.0 209.0 L485.2 210.0 L485.4 210.6 L485.6 210.0 L485.8 210.0 L486.0 210.9 L486.2 210.5 L486.4 210.6 L486.6 210.1 L486.8 210.4 L487.0 211.8 L487.1 211.7 L487.3 210.9 L487.5 212.8 L487.7 213.7 L487.9 213.6 L488.1 214.8 L488.3 216.2 L488.5 215.0 L488.7 215.0 L488.9 214.8 L489.1 212.1 L489.3 206.9 L489.5 204.8 L489.6 205.6 L489.8 205.2 L490.0 204.2 L490.2 205.4 L490.4 206.4 L490.6 206.4 L490.8 208.6 L491.0 208.2 L491.2 208.0 L491.4 208.7 L491.6 208.5 L491.8 208.0 L491.9 208.0 L492.1 207.9 L492.3 206.9 L492.5 207.8 L492.7 208.1 L492.9 209.1 L493.1 208.6 L493.3 209.4 L493.5 210.3 L493.7 211.5 L493.9 212.8 L494.1 212.6 L494.2 214.0 L494.4 214.0 L494.6 214.9 L494.8 215.3 L495.0 217.2 L495.2 218.0 L495.4 216.6 L495.6 216.4 L495.8 215.5 L496.0 214.9 L496.2 214.2 L496.4 212.6 L496.5 212.9 L496.7 214.2 L496.9 215.5 L497.1 215.6 L497.3 215.8 L497.5 215.5 L497.7 214.6 L497.9 213.9 L498.1 214.7 L498.3 215.3 L498.5 217.1 L498.7 217.6 L498.8 217.4 L499.0 217.1 L499.2 220.1 L499.4 220.3 L499.6 219.8 L499.8 218.2 L500.0 218.7 L500.2 218.1 L500.4 216.7 L500.6 215.4 L500.8 216.1 L501.0 216.8 L501.1 215.8 L501.3 217.0 L501.5 215.6 L501.7 215.4 L501.9 215.1 L502.1 216.2 L502.3 216.1 L502.5 214.7 L502.7 215.4 L502.9 212.6 L503.1 213.1 L503.3 213.5 L503.4 212.7 L503.6 211.4 L503.8 209.6 L504.0 208.9 L504.2 208.0 L504.4 207.1 L504.6 206.6 L504.8 208.0 L505.0 207.4 L505.2 207.4 L505.4 207.6 L505.6 208.5 L505.7 208.5 L505.9 208.8 L506.1 209.2 L506.3 208.4 L506.5 209.5 L506.7 208.7 L506.9 209.2 L507.1 208.9 L507.3 206.9 L507.5 207.4 L507.7 206.9 L507.8 206.9 L508.0 205.5 L508.2 205.8 L508.4 206.9 L508.6 205.8 L508.8 205.6 L509.0 205.3 L509.2 203.7 L509.4 204.5 L509.6 204.8 L509.8 204.6 L510.0 204.1 L510.1 204.5 L510.3 203.5 L510.5 201.3 L510.7 202.1 L510.9 200.8 L511.1 203.3 L511.3 202.4 L511.5 203.2 L511.7 203.6 L511.9 204.4 L512.1 205.5 L512.2 207.3 L512.4 208.3 L512.6 207.6 L512.8 207.1 L513.0 208.0 L513.2 208.0 L513.4 208.2 L513.6 208.9 L513.8 207.3 L514.0 206.8 L514.2 206.8 L514.3 207.3 L514.5 208.4 L514.7 207.2 L514.9 206.6 L515.1 210.4 L515.3 212.4 L515.5 213.3 L515.7 212.4 L515.9 232.1 L516.1 231.3 L516.3 229.7 L516.5 230.8 L516.6 231.3 L516.8 230.4 L517.0 227.1 L517.2 224.1 L517.4 222.4 L517.6 221.0 L517.8 220.8 L518.0 220.0 L518.2 220.3 L518.4 219.2 L518.6 219.7 L518.7 219.2 L518.9 219.0 L519.1 218.9 L519.3 220.0 L519.5 220.9 L519.7 219.8 L519.9 218.2 L520.1 218.6 L520.3 216.5 L520.5 216.6 L520.7 215.7 L520.9 216.5 L521.0 217.8 L521.2 217.0 L521.4 217.9 L521.6 217.3 L521.8 217.0 L522.0 218.3 L522.2 218.7 L522.4 218.3 L522.6 218.3 L522.8 217.9 L523.0 218.2 L523.1 217.8 L523.3 217.8 L523.5 217.4 L523.7 216.2 L523.9 214.6 L524.1 213.6 L524.3 212.6 L524.5 210.9 L524.7 210.4 L524.9 210.5 L525.1 208.6 L525.3 208.7 L525.4 207.3 L525.6 207.7 L525.8 205.5 L526.0 205.9 L526.2 204.6 L526.4 202.7 L526.6 203.1 L526.8 203.0 L527.0 205.2 L527.2 208.2 L527.4 206.1 L527.5 204.0 L527.7 202.8 L527.9 203.7 L528.1 203.4 L528.3 203.4 L528.5 203.4 L528.7 203.3 L528.9 204.6 L529.1 204.8 L529.3 204.1 L529.5 203.7 L529.6 205.1 L529.8 206.8 L530.0 207.5 L530.2 206.5 L530.4 205.7 L530.6 206.8 L530.8 206.6 L531.0 206.4 L531.2 205.0 L531.4 203.3 L531.6 202.3 L531.8 201.5 L531.9 202.2 L532.1 201.0 L532.3 201.7 L532.5 201.7 L532.7 201.1 L532.9 202.3 L533.1 203.3 L533.3 205.1 L533.5 205.0 L533.7 205.2 L533.9 205.6 L534.0 205.2 L534.2 207.1 L534.4 206.9 L534.6 206.6 L534.8 206.7 L535.0 205.8 L535.2 203.9 L535.4 204.2 L535.6 205.2 L535.8 206.0 L536.0 206.1 L536.2 205.7 L536.3 206.7 L536.5 205.9 L536.7 207.0 L536.9 206.4 L537.1 206.2 L537.3 205.9 L537.5 204.0 L537.7 204.4 L537.9 204.7 L538.1 204.4 L538.3 203.7 L538.4 205.2 L538.6 205.1 L538.8 205.9 L539.0 205.4 L539.2 204.1 L539.4 204.1 L539.6 204.3 L539.8 204.2 L540.0 207.0 L540.2 206.4 L540.4 205.9 L540.6 205.8 L540.7 206.2 L540.9 205.7 L541.1 204.6 L541.3 202.1 L541.5 201.0 L541.7 198.4 L541.9 199.6 L542.1 198.8 L542.3 197.7 L542.5 196.9 L542.7 197.7 L542.8 197.5 L543.0 195.7 L543.2 196.4 L543.4 196.8 L543.6 197.3 L543.8 197.2 L544.0 196.0 L544.2 195.5 L544.4 197.5 L544.6 196.1 L544.8 196.7 L545.0 197.3 L545.1 194.9 L545.3 194.1 L545.5 194.4 L545.7 194.2 L545.9 194.0 L546.1 194.2 L546.3 195.1 L546.5 194.8 L546.7 195.1 L546.9 197.0 L547.1 194.9 L547.2 196.4 L547.4 196.9 L547.6 197.5 L547.8 196.9 L548.0 197.3 L548.2 197.0 L548.4 195.2 L548.6 195.2 L548.8 196.4 L549.0 196.3 L549.2 197.3 L549.3 199.4 L549.5 200.9 L549.7 202.3 L549.9 202.5 L550.1 201.6 L550.3 201.7 L550.5 202.9 L550.7 202.0 L550.9 202.3 L551.1 201.1 L551.3 200.9 L551.5 199.5 L551.6 198.4 L551.8 200.1 L552.0 200.7 L552.2 200.9 L552.4 198.8 L552.6 201.4 L552.8 201.4 L553.0 201.3 L553.2 201.7 L553.4 200.9 L553.6 201.3 L553.7 201.2 L553.9 200.8 L554.1 200.3 L554.3 199.5 L554.5 199.6 L554.7 199.6 L554.9 199.5 L555.1 198.5 L555.3 199.4 L555.5 199.9 L555.7 199.7 L555.9 199.5 L556.0 199.1 L556.2 200.5 L556.4 199.6 L556.6 198.7 L556.8 196.8 L557.0 198.2 L557.2 198.0 L557.4 197.1 L557.6 196.2 L557.8 194.6 L558.0 193.2 L558.1 193.7 L558.3 192.6 L558.5 192.5 L558.7 192.5 L558.9 190.3 L559.1 190.1 L559.3 190.2 L559.5 189.8 L559.7 189.9 L559.9 189.5 L560.1 189.8 L560.3 189.2 L560.4 189.4 L560.6 188.8 L560.8 186.6 L561.0 186.1 L561.2 185.4 L561.4 184.3 L561.6 183.9 L561.8 182.3 L562.0 182.4 L562.2 181.6 L562.4 181.2 L562.5 181.9 L562.7 182.5 L562.9 182.2 L563.1 181.3 L563.3 180.5 L563.5 179.5 L563.7 179.0 L563.9 178.9 L564.1 177.3 L564.3 177.2 L564.5 177.3 L564.6 176.4 L564.8 176.7 L565.0 176.0 L565.2 178.4 L565.4 180.6 L565.6 178.4 L565.8 177.0 L566.0 175.3 L566.2 174.7 L566.4 174.1 L566.6 174.4 L566.8 173.5 L566.9 175.7 L567.1 176.0 L567.3 175.6 L567.5 177.7 L567.7 177.8 L567.9 177.5 L568.1 177.2 L568.3 178.4 L568.5 176.9 L568.7 175.3 L568.9 174.9 L569.0 172.8 L569.2 171.5 L569.4 168.7 L569.6 169.1 L569.8 168.6 L570.0 168.5 L570.2 167.4 L570.4 166.9 L570.6 166.7 L570.8 166.1 L571.0 164.4 L571.2 164.0 L571.3 162.8 L571.5 160.8 L571.7 159.6 L571.9 160.3 L572.1 158.8 L572.3 156.7 L572.5 154.6 L572.7 153.4 L572.9 150.6 L573.1 149.0 L573.3 147.9 L573.5 146.8 L573.6 144.8 L573.8 147.7 L574.0 150.5 L574.2 150.4 L574.4 149.0 L574.6 147.8 L574.8 146.3 L575.0 147.3 L575.2 150.5 L575.4 151.0 L575.6 151.3 L575.8 152.5 L575.9 155.9 L576.1 156.3 L576.3 154.6 L576.5 154.8 L576.7 154.3 L576.9 155.0 L577.1 156.5 L577.3 156.8 L577.5 155.7 L577.7 154.0 L577.9 152.9 L578.1 153.3 L578.2 154.0 L578.4 150.7 L578.6 150.2 L578.8 148.7 L579.0 146.0 L579.2 142.7 L579.4 140.6 L579.6 139.6 L579.8 138.7 L580.0 139.6 L580.2 139.0 L580.4 137.2 L580.5 138.4 L580.7 137.4 L580.9 135.4 L581.1 132.9 L581.3 132.5 L581.5 131.9 L581.7 132.5 L581.9 132.3 L582.1 130.5 L582.3 132.4 L582.5 137.3 L582.7 136.8 L582.8 137.2 L583.0 138.6 L583.2 137.3 L583.4 140.5 L583.6 139.8 L583.8 138.8 L584.0 135.9 L584.2 135.1 L584.4 133.9 L584.6 134.8 L584.8 134.8 L585.0 134.5 L585.1 132.5 L585.3 130.7 L585.5 129.4 L585.7 128.3 L585.9 128.0 L586.1 126.9 L586.3 128.2 L586.5 131.0 L586.7 131.0 L586.9 131.3 L587.1 131.4 L587.3 130.0 L587.5 130.7 L587.6 131.7 L587.8 133.1 L588.0 133.8 L588.2 134.9 L588.4 134.7 L588.6 131.7 L588.8 131.4 L589.0 132.2 L589.2 130.4 L589.4 129.5 L589.6 129.6 L589.8 129.7 L589.9 129.8 L590.1 130.0 L590.3 129.5 L590.5 128.4 L590.7 127.0 L590.9 127.4 L591.1 127.3 L591.3 128.0 L591.5 127.0 L591.7 126.1 L591.9 126.4 L592.1 127.5 L592.2 126.6 L592.4 127.0 L592.6 129.7 L592.8 131.5 L593.0 132.0 L593.2 133.1 L593.4 133.8 L593.6 133.8 L593.8 134.6 L594.0 136.7 L594.2 137.1 L594.4 135.3 L594.5 133.2 L594.7 131.8 L594.9 131.1 L595.1 130.4 L595.3 129.5 L595.5 129.3 L595.7 130.7 L595.9 128.9 L596.1 129.3 L596.3 129.3 L596.5 128.0 L596.7 129.6 L596.8 130.2 L597.0 132.9 L597.2 134.2 L597.4 136.5 L597.6 137.2 L597.8 138.1 L598.0 139.0 L598.2 142.7 L598.4 146.1 L598.6 148.1 L598.8 148.7 L599.0 144.9 L599.1 146.9 L599.3 149.3 L599.5 151.4 L599.7 148.6 L599.9 148.3 L600.1 146.2 L600.3 146.2 L600.5 146.3 L600.7 147.0 L600.9 147.6 L601.1 148.4 L601.3 149.8 L601.5 147.7 L601.6 146.3 L601.8 146.7 L602.0 146.4 L602.2 147.7 L602.4 150.8 L602.6 152.9 L602.8 151.4 L603.0 148.5 L603.2 147.1 L603.4 146.7 L603.6 145.5 L603.8 145.0 L603.9 146.9 L604.1 147.7 L604.3 148.7 L604.5 150.1 L604.7 151.9 L604.9 153.7 L605.1 154.5 L605.3 154.1 L605.5 154.8 L605.7 153.1 L605.9 155.2 L606.1 154.0 L606.2 154.2 L606.4 153.5 L606.6 152.5 L606.8 151.0 L607.0 150.1 L607.2 150.9 L607.4 152.3 L607.6 152.7 L607.8 152.6 L608.0 153.3 L608.2 152.6 L608.4 151.0 L608.5 152.5 L608.7 152.3 L608.9 151.4 L609.1 153.3 L609.3 153.7 L609.5 154.6 L609.7 156.6 L609.9 155.9 L610.1 156.4 L610.3 157.4 L610.5 157.6 L610.7 157.6 L610.8 155.5 L611.0 153.6 L611.2 151.8 L611.4 151.5 L611.6 150.5 L611.8 148.7 L612.0 149.7 L612.2 145.9 L612.4 144.5 L612.6 143.8 L612.8 143.9 L613.0 143.5 L613.1 143.3 L613.3 143.7 L613.5 143.9 L613.7 144.6 L613.9 144.2 L614.1 143.2 L614.3 142.8 L614.5 141.0 L614.7 140.1 L614.9 140.2 L615.1 140.1 L615.3 139.1 L615.5 138.8 L615.6 138.8 L615.8 139.2 L616.0 140.2 L616.2 140.8 L616.4 138.9 L616.6 137.4 L616.8 136.5 L617.0 136.5 L617.2 136.7 L617.4 136.6 L617.6 135.9 L617.8 135.7 L617.9 137.3 L618.1 137.7 L618.3 137.7 L618.5 138.9 L618.7 138.8 L618.9 137.9 L619.1 137.6 L619.3 137.7 L619.5 135.8 L619.7 134.4 L619.9 134.1 L620.1 139.0 L620.2 138.7 L620.4 138.6 L620.6 139.4 L620.8 138.3 L621.0 139.1 L621.2 140.6 L621.4 139.1 L621.6 138.7 L621.8 137.8 L622.0 137.3 L622.2 137.7 L622.4 141.2 L622.5 143.8 L622.7 144.8 L622.9 145.2 L623.1 143.4 L623.3 142.6 L623.5 143.1 L623.7 142.3 L623.9 141.1 L624.1 141.3 L624.3 142.7 L624.5 141.8 L624.7 140.8 L624.8 138.4 L625.0 138.2 L625.2 136.3 L625.4 135.1 L625.6 135.4 L625.8 134.5 L626.0 133.2 L626.2 132.6 L626.4 132.6 L626.6 131.6 L626.8 132.6 L627.0 131.3 L627.1 130.1 L627.3 127.7 L627.5 126.3 L627.7 125.4 L627.9 124.6 L628.1 124.1 L628.3 124.8 L628.5 124.3 L628.7 124.7 L628.9 125.9 L629.1 127.9 L629.3 127.4 L629.5 127.8 L629.6 129.8 L629.8 129.4 L630.0 127.8 L630.2 128.0 L630.4 127.9 L630.6 127.9 L630.8 128.2 L631.0 126.8 L631.2 123.9 L631.4 123.9 L631.6 124.2 L631.8 123.5 L631.9 123.9 L632.1 123.6 L632.3 123.2 L632.5 124.6 L632.7 126.0 L632.9 127.1 L633.1 127.4 L633.3 128.1 L633.5 128.0 L633.7 130.4 L633.9 131.0 L634.1 131.4 L634.2 131.1 L634.4 130.6 L634.6 131.4 L634.8 130.6 L635.0 130.8 L635.2 129.5 L635.4 130.5 L635.6 131.1 L635.8 131.1 L636.0 131.8 L636.2 130.9 L636.4 132.9 L636.5 133.5 L636.7 134.6 L636.9 137.0 L637.1 137.4 L637.3 138.5 L637.5 139.0 L637.7 139.5 L637.9 138.0 L638.1 138.7 L638.3 137.0 L638.5 136.4 L638.7 137.5 L638.8 139.5 L639.0 138.7 L639.2 140.4 L639.4 139.6 L639.6 138.1 L639.8 137.2 L640.0 136.9 L640.2 136.6 L640.4 135.9 L640.6 135.6 L640.8 136.1 L641.0 136.4 L641.1 135.2 L641.3 135.7 L641.5 135.6 L641.7 137.0 L641.9 138.0 L642.1 139.6 L642.3 140.4 L642.5 140.4 L642.7 140.8 L642.9 142.0 L643.1 142.0 L643.3 142.4 L643.5 142.0 L643.6 141.8 L643.8 141.3 L644.0 143.7 L644.2 144.9 L644.4 144.0 L644.6 144.1 L644.8 141.8 L645.0 142.0 L645.2 142.4 L645.4 143.2 L645.6 144.9 L645.8 145.3 L645.9 147.1 L646.1 149.5 L646.3 151.0 L646.5 151.0 L646.7 150.8 L646.9 150.6 L647.1 150.1 L647.3 148.6 L647.5 148.7 L647.7 148.1 L647.9 148.3 L648.1 147.1 L648.2 148.6 L648.4 147.6 L648.6 146.3 L648.8 146.2 L649.0 144.1 L649.2 144.0 L649.4 143.0 L649.6 142.2 L649.8 141.7 L650.0 142.0 L650.2 142.5 L650.4 142.2 L650.5 142.0 L650.7 141.2 L650.9 141.1 L651.1 139.8 L651.3 142.9 L651.5 143.3 L651.7 145.4 L651.9 147.2 L652.1 146.4 L652.3 146.4 L652.5 147.6 L652.7 147.3 L652.8 145.5 L653.0 145.5 L653.2 143.3 L653.4 142.3 L653.6 144.0 L653.8 144.5 L654.0 145.2 L654.2 146.4 L654.4 144.3 L654.6 143.8 L654.8 144.3 L655.0 144.0 L655.1 144.1 L655.3 146.1 L655.5 147.0 L655.7 147.8 L655.9 145.2 L656.1 144.8 L656.3 144.4 L656.5 144.4 L656.7 144.0 L656.9 144.6 L657.1 143.5 L657.3 143.4 L657.5 142.4 L657.6 143.1 L657.8 141.5 L658.0 140.6 L658.2 139.5 L658.4 139.9 L658.6 139.1 L658.8 138.8 L659.0 140.1 L659.2 139.7 L659.4 140.2 L659.6 139.7 L659.8 139.5 L659.9 139.3 L660.1 139.0 L660.3 140.2 L660.5 140.8 L660.7 142.4 L660.9 144.3 L661.1 144.5 L661.3 143.7 L661.5 146.0 L661.7 144.5 L661.9 143.8 L662.1 144.8 L662.2 144.7 L662.4 144.4 L662.6 144.2 L662.8 144.7 L663.0 146.1 L663.2 146.3 L663.4 145.7 L663.6 145.2 L663.8 144.8 L664.0 143.9 L664.2 145.1 L664.4 146.1 L664.5 146.7 L664.7 146.7 L664.9 147.5 L665.1 147.9 L665.3 148.6 L665.5 147.3 L665.7 150.1 L665.9 150.9 L666.1 149.3 L666.3 150.3 L666.5 153.3 L666.7 154.4 L666.8 157.0 L667.0 158.6 L667.2 159.4 L667.4 158.8 L667.6 158.6 L667.8 158.2 L668.0 157.5 L668.2 157.5 L668.4 158.0 L668.6 157.8 L668.8 157.2 L669.0 157.1 L669.1 157.5 L669.3 157.5 L669.5 158.6 L669.7 159.0 L669.9 158.5 L670.1 158.3 L670.3 157.7 L670.5 155.8 L670.7 155.0 L670.9 154.4 L671.1 155.0 L671.3 155.7 L671.5 155.1 L671.6 155.7 L671.8 155.1 L672.0 155.9 L672.2 155.5 L672.4 156.4 L672.6 156.3 L672.8 157.4 L673.0 158.6 L673.2 162.6 L673.4 166.7 L673.6 169.2 L673.8 170.8 L673.9 172.6 L674.1 174.3 L674.3 175.1 L674.5 176.2 L674.7 175.9 L674.9 177.5 L675.1 175.5 L675.3 174.1 L675.5 173.5 L675.7 174.0 L675.9 173.1 L676.1 172.1 L676.2 174.0 L676.4 173.9 L676.6 175.1 L676.8 174.5 L677.0 173.6 L677.2 173.1 L677.4 175.0 L677.6 174.1 L677.8 173.7 L678.0 174.0 L678.2 173.5 L678.4 172.0 L678.5 172.3 L678.7 172.3 L678.9 172.8 L679.1 171.7 L679.3 173.7 L679.5 171.4 L679.7 171.4 L679.9 169.5 L680.1 170.1 L680.3 170.1 L680.5 169.7 L680.7 168.0 L680.8 170.1 L681.0 170.1 L681.2 171.3 L681.4 170.7 L681.6 171.6 L681.8 171.7 L682.0 171.7 L682.2 169.8 L682.4 170.0 L682.6 169.9 L682.8 167.8 L683.0 167.1 L683.1 165.9 L683.3 166.0 L683.5 165.2 L683.7 166.8 L683.9 166.1 L684.1 166.1 L684.3 166.9 L684.5 168.1 L684.7 166.8 L684.9 166.2 L685.1 167.5 L685.3 165.6 L685.5 166.1 L685.6 167.0 L685.8 167.3 L686.0 168.9 L686.2 171.0 L686.4 172.3 L686.6 171.7 L686.8 171.3 L687.0 173.3 L687.2 172.6 L687.4 173.1 L687.6 173.1 L687.8 173.6 L687.9 172.8 L688.1 173.3 L688.3 173.8 L688.5 174.1 L688.7 174.0 L688.9 173.9 L689.1 175.6 L689.3 174.6 L689.5 175.7 L689.7 176.8 L689.9 176.7 L690.1 174.6 L690.2 173.4 L690.4 172.8 L690.6 172.2 L690.8 172.1 L691.0 169.4 L691.2 170.6 L691.4 171.0 L691.6 172.7 L691.8 174.5 L692.0 175.1 L692.2 175.5 L692.4 177.1 L692.5 178.1 L692.7 177.3 L692.9 178.3 L693.1 179.0 L693.3 179.4 L693.5 178.0 L693.7 176.3 L693.9 176.0 L694.1 175.4 L694.3 175.6 L694.5 175.4 L694.7 176.3 L694.8 176.7 L695.0 177.1 L695.2 176.4 L695.4 174.7 L695.6 176.8 L695.8 176.7 L696.0 177.1 L696.2 176.6 L696.4 176.0 L696.6 175.3 L696.8 174.6 L697.0 175.5 L697.1 177.2 L697.3 175.6 L697.5 174.5 L697.7 175.5 L697.9 174.3 L698.1 173.7 L698.3 176.1 L698.5 174.3 L698.7 174.4 L698.9 172.4 L699.1 172.1 L699.3 171.9 L699.5 172.5 L699.6 172.9 L699.8 172.1 L700.0 173.0 L700.2 174.9 L700.4 173.1 L700.6 170.8 L700.8 169.7 L701.0 169.7 L701.2 170.4 L701.4 171.5 L701.6 174.2 L701.8 176.1 L701.9 180.4 L702.1 183.6 L702.3 183.7 L702.5 183.9 L702.7 183.3 L702.9 181.3 L703.1 181.8 L703.3 181.4 L703.5 180.7 L703.7 181.4 L703.9 181.9 L704.1 183.6 L704.2 182.9 L704.4 183.8 L704.6 183.4 L704.8 182.3 L705.0 182.1 L705.2 182.0 L705.4 182.0 L705.6 180.2 L705.8 180.1 L706.0 179.3 L706.2 180.3 L706.4 181.7 L706.5 179.6 L706.7 179.5 L706.9 180.5 L707.1 180.2 L707.3 179.2 L707.5 180.4 L707.7 180.8 L707.9 180.1 L708.1 180.6 L708.3 180.0 L708.5 179.3 L708.7 179.0 L708.8 179.6 L709.0 179.8 L709.2 180.7 L709.4 181.1 L709.6 181.1 L709.8 181.7 L710.0 181.0 L710.2 179.0 L710.4 180.0 L710.6 180.2 L710.8 179.8 L711.0 179.7 L711.1 180.4 L711.3 181.3 L711.5 180.8 L711.7 180.7 L711.9 180.7 L712.1 181.9 L712.3 181.5 L712.5 180.9 L712.7 181.3 L712.9 180.8 L713.1 178.9 L713.3 180.9 L713.5 179.3 L713.6 179.5 L713.8 179.8 L714.0 179.0 L714.2 177.5 L714.4 176.4 L714.6 174.1 L714.8 172.1 L715.0 171.8 L715.2 170.9 L715.4 170.9 L715.6 171.4 L715.8 168.9 L715.9 168.9 L716.1 168.6 L716.3 168.7 L716.5 168.8 L716.7 168.3 L716.9 168.2 L717.1 167.7 L717.3 168.9 L717.5 170.4 L717.7 168.6 L717.9 168.8 L718.1 168.2 L718.2 167.1 L718.4 166.7 L718.6 166.8 L718.8 168.4 L719.0 170.1 L719.2 169.3 L719.4 168.8 L719.6 168.3 L719.8 169.2 L720.0 170.6 L720.2 170.9 L720.4 171.4 L720.5 170.5 L720.7 169.6 L720.9 166.1 L721.1 166.3 L721.3 166.5 L721.5 165.4 L721.7 164.7 L721.9 165.2 L722.1 164.7 L722.3 163.2 L722.5 164.7 L722.7 165.2 L722.8 166.6 L723.0 168.7 L723.2 168.4 L723.4 168.1 L723.6 167.1 L723.8 166.8 L724.0 168.7 L724.2 168.8 L724.4 169.4 L724.6 171.4 L724.8 173.4 L725.0 173.5 L725.1 174.7 L725.3 173.7 L725.5 170.6 L725.7 169.8 L725.9 166.2 L726.1 164.2 L726.3 163.3 L726.5 163.7 L726.7 161.1 L726.9 161.2 L727.1 160.1 L727.3 160.8 L727.5 160.8 L727.6 161.3 L727.8 159.8 L728.0 158.3 L728.2 158.2 L728.4 159.1 L728.6 158.8 L728.8 158.0 L729.0 159.1 L729.2 159.8 L729.4 159.5 L729.6 158.6 L729.8 158.3 L729.9 157.6 L730.1 158.6 L730.3 160.7 L730.5 160.2 L730.7 160.6 L730.9 160.2 L731.1 160.0 L731.3 159.1 L731.5 159.3 L731.7 157.4 L731.9 156.8 L732.1 157.0 L732.2 157.1 L732.4 156.9 L732.6 157.2 L732.8 159.6 L733.0 160.9 L733.2 159.8 L733.4 159.4 L733.6 158.9 L733.8 158.5 L734.0 159.1 L734.2 159.8 L734.4 160.7 L734.5 160.0 L734.7 159.9 L734.9 158.6 L735.1 158.4 L735.3 157.4 L735.5 157.7 L735.7 159.7 L735.9 158.8 L736.1 159.3 L736.3 158.9 L736.5 159.5 L736.7 160.7 L736.8 159.9 L737.0 160.4 L737.2 161.0 L737.4 161.3 L737.6 161.2 L737.8 161.9 L738.0 161.4 L738.2 161.8 L738.4 160.4 L738.6 159.3 L738.8 160.0 L739.0 159.8 L739.1 160.7 L739.3 160.9 L739.5 161.6 L739.7 162.8 L739.9 162.2 L740.1 163.2 L740.3 162.2 L740.5 162.0 L740.7 162.6 L740.9 162.4 L741.1 161.4 L741.3 162.7 L741.5 162.8 L741.6 162.9 L741.8 162.0 L742.0 163.7 L742.2 164.1 L742.4 164.0 L742.6 162.9 L742.8 163.0 L743.0 162.6 L743.2 164.4 L743.4 165.3 L743.6 164.1 L743.8 164.7 L743.9 161.9 L744.1 161.8 L744.3 161.3 L744.5 162.2 L744.7 160.8 L744.9 159.8 L745.1 157.3 L745.3 156.7 L745.5 156.4 L745.7 158.1 L745.9 158.6 L746.1 158.0 L746.2 157.6 L746.4 156.8 L746.6 156.3 L746.8 156.7 L747.0 156.3 L747.2 156.4 L747.4 157.9 L747.6 156.4 L747.8 156.3 L748.0 157.5 L748.2 157.1 L748.4 156.9 L748.5 155.9 L748.7 154.5 L748.9 157.5 L749.1 156.9 L749.3 155.4 L749.5 156.2 L749.7 157.8 L749.9 157.4 L750.1 156.9 L750.3 156.4 L750.5 157.3 L750.7 157.6 L750.8 158.5 L751.0 158.8 L751.2 157.7 L751.4 158.5 L751.6 158.7 L751.8 160.7 L752.0 159.3 L752.2 159.1 L752.4 158.9 L752.6 159.5 L752.8 158.4 L753.0 160.2 L753.1 160.1 L753.3 160.0 L753.5 159.7 L753.7 158.5 L753.9 158.6 L754.1 158.5 L754.3 157.6 L754.5 159.1 L754.7 159.4 L754.9 159.3 L755.1 158.3 L755.3 159.0 L755.5 158.2 L755.6 157.8 L755.8 159.2 L756.0 162.3 L756.2 164.1 L756.4 164.3 L756.6 164.4 L756.8 164.0 L757.0 163.5 L757.2 164.4 L757.4 163.7 L757.6 163.2 L757.8 162.1 L757.9 161.0 L758.1 161.6 L758.3 160.7 L758.5 162.0 L758.7 163.4 L758.9 163.5 L759.1 163.1 L759.3 162.8 L759.5 162.9 L759.7 163.6 L759.9 163.4 L760.1 164.2 L760.2 165.6 L760.4 165.6 L760.6 164.2 L760.8 164.6 L761.0 166.0 L761.2 164.9 L761.4 163.5 L761.6 164.1 L761.8 164.6 L762.0 164.7 L762.2 162.1 L762.4 161.8 L762.5 160.6 L762.7 159.9 L762.9 161.5 L763.1 162.4 L763.3 163.4 L763.5 162.8 L763.7 162.9 L763.9 161.3 L764.1 161.7 L764.3 161.6 L764.5 161.7 L764.7 162.4 L764.8 161.0 L765.0 161.1 L765.2 160.1 L765.4 159.3 L765.6 160.3 L765.8 160.0 L766.0 160.9 L766.2 161.2 L766.4 161.5 L766.6 161.9 L766.8 162.6 L767.0 161.4 L767.1 161.9 L767.3 161.5 L767.5 160.2 L767.7 160.0 L767.9 159.4 L768.1 158.5 L768.3 157.8 L768.5 155.4 L768.7 156.1 L768.9 153.4 L769.1 151.6 L769.3 151.6 L769.5 151.5 L769.6 152.2 L769.8 151.4 L770.0 152.2 L770.2 152.4 L770.4 151.4 L770.6 151.0 L770.8 151.5 L771.0 151.5 L771.2 151.3 L771.4 151.0 L771.6 150.3 L771.8 149.8 L771.9 148.2 L772.1 149.1 L772.3 149.5 L772.5 149.2 L772.7 149.6 L772.9 150.0 L773.1 150.4 L773.3 150.0 L773.5 148.6 L773.7 148.6 L773.9 148.6 L774.1 148.1 L774.2 148.2 L774.4 149.4 L774.6 148.4 L774.8 148.0 L775.0 147.9 L775.2 146.7 L775.4 146.0 L775.6 145.9 L775.8 147.5 L776.0 148.6 L776.2 147.9 L776.4 146.5 L776.5 144.6 L776.7 142.9 L776.9 141.8 L777.1 141.6 L777.3 142.3 L777.5 142.1 L777.7 142.9 L777.9 141.8 L778.1 142.8 L778.3 144.2 L778.5 143.9 L778.7 145.1 L778.8 142.9 L779.0 143.4 L779.2 142.9 L779.4 142.6 L779.6 142.9 L779.8 144.6 L780.0 146.4 L780.2 145.5 L780.4 144.4 L780.6 142.2 L780.8 143.6 L781.0 143.0 L781.1 143.0 L781.3 142.7 L781.5 143.8 L781.7 143.6 L781.9 143.3 L782.1 143.2 L782.3 141.2 L782.5 140.7 L782.7 138.7 L782.9 138.9 L783.1 136.8 L783.3 139.0 L783.4 138.6 L783.6 138.9 L783.8 139.6 L784.0 139.2 L784.2 140.6 L784.4 142.7 L784.6 141.1 L784.8 142.7 L785.0 143.6 L785.2 142.2 L785.4 142.0 L785.6 144.2 L785.7 144.7 L785.9 146.8 L786.1 146.3 L786.3 146.0 L786.5 146.2 L786.7 144.5 L786.9 145.0 L787.1 143.7 L787.3 142.3 L787.5 141.5 L787.7 142.1 L787.8 141.5 L788.0 142.9 L788.2 142.7 L788.4 143.8 L788.6 141.9 L788.8 142.1 L789.0 143.7 L789.2 142.4 L789.4 141.3 L789.6 141.5 L789.8 139.2 L790.0 138.2 L790.1 136.5 L790.3 135.6 L790.5 136.9 L790.7 134.8 L790.9 133.4 L791.1 133.4 L791.3 134.3 L791.5 133.8 L791.7 135.0 L791.9 134.4 L792.1 134.5 L792.2 133.8 L792.4 134.3 L792.6 134.9 L792.8 134.9 L793.0 130.9 L793.2 128.5 L793.4 127.1 L793.6 126.6 L793.8 126.6 L794.0 126.2 L794.2 125.0 L794.3 123.4 L794.5 126.2 L794.7 125.3 L794.9 124.7 L795.1 123.4 L795.3 122.5 L795.5 121.7 L795.7 120.2 L795.9 120.4 L796.1 120.6 L796.3 121.3 L796.5 123.4 L796.6 125.3 L796.8 126.4 L797.0 126.3 L797.2 127.5 L797.4 127.5 L797.6 126.6 L797.8 126.0 L798.0 124.2 L798.2 123.6 L798.4 122.5 L798.6 122.3 L798.7 121.7 L798.9 122.0 L799.1 120.5 L799.3 121.6 L799.5 121.7 L799.7 124.1 L799.9 125.2 L800.1 124.2 L800.3 122.8 L800.5 122.2 L800.7 121.9 L800.9 122.1 L801.0 121.5 L801.2 123.1 L801.4 124.0 L801.6 124.7 L801.8 124.9 L802.0 126.1 L802.2 127.0 L802.4 128.1 L802.6 128.1 L802.8 127.9 L803.0 126.2 L803.1 126.2 L803.3 124.7 L803.5 123.1 L803.7 124.3 L803.9 124.2 L804.1 124.0 L804.3 123.7 L804.5 124.7 L804.7 124.8 L804.9 126.3 L805.1 127.4 L805.3 128.4 L805.4 130.0 L805.6 129.6 L805.8 128.0 L806.0 127.4 L806.2 127.5 L806.4 126.6 L806.6 126.3 L806.8 127.4 L807.0 127.2 L807.2 128.2 L807.4 127.7 L807.5 126.1 L807.7 124.9 L807.9 124.5 L808.1 124.7 L808.3 123.7 L808.5 122.6 L808.7 122.1 L808.9 121.0 L809.1 121.6 L809.3 122.2 L809.5 122.9 L809.6 123.6 L809.8 124.4 L810.0 124.6 L810.2 124.6 L810.4 123.8 L810.6 123.7 L810.8 123.7 L811.0 124.6 L811.2 123.9 L811.4 122.6 L811.6 123.0 L811.8 122.3 L811.9 121.8 L812.1 121.8 L812.3 123.4 L812.5 122.0 L812.7 124.1 L812.9 124.1 L813.1 124.8 L813.3 124.0 L813.5 124.8 L813.7 125.1 L813.9 124.8 L814.0 124.8 L814.2 125.7 L814.4 125.4 L814.6 125.4 L814.8 124.8 L815.0 125.8 L815.2 126.3 L815.4 127.1 L815.6 128.4 L815.8 128.6 L816.0 128.4 L816.2 127.2 L816.3 127.7 L816.5 127.5 L816.7 126.6 L816.9 127.0 L817.1 127.3 L817.3 127.6 L817.5 128.6 L817.7 130.9 L817.9 131.1 L818.1 131.3 L818.3 131.7 L818.4 132.2 L818.6 131.4 L818.8 129.6 L819.0 130.0 L819.2 130.2 L819.4 128.9 L819.6 127.3 L819.8 125.6 L820.0 125.7 L820.2 124.8 L820.4 125.1 L820.6 124.2 L820.7 124.1 L820.9 123.5 L821.1 122.9 L821.3 123.3 L821.5 124.3 L821.7 125.0 L821.9 124.7 L822.1 125.2 L822.3 125.0 L822.5 124.3 L822.7 123.2 L822.8 125.7 L823.0 126.7 L823.2 127.8 L823.4 129.9 L823.6 130.4 L823.8 133.1 L824.0 130.8 L824.2 127.4 L824.4 127.6 L824.6 127.5 L824.8 130.3 L825.0 129.9 L825.1 130.1 L825.3 130.3 L825.5 129.7 L825.7 130.7 L825.9 130.1 L826.1 130.5 L826.3 130.6 L826.5 128.6 L826.7 129.5 L826.9 127.9 L827.1 128.0 L827.2 126.1 L827.4 126.8 L827.6 128.3 L827.8 129.0 L828.0 129.1 L828.2 128.4 L828.4 129.1 L828.6 129.9 L828.8 129.5 L829.0 130.7 L829.2 131.2 L829.3 130.5 L829.5 132.2 L829.7 132.7 L829.9 133.2 L830.1 132.1 L830.3 130.9 L830.5 131.4 L830.7 130.8 L830.9 129.8 L831.1 129.3 L831.3 128.4 L831.5 127.1 L831.6 127.4 L831.8 127.2 L832.0 128.3 L832.2 126.5 L832.4 126.8 L832.6 128.6 L832.8 127.9 L833.0 128.3 L833.2 127.4 L833.4 127.9 L833.6 125.9 L833.7 125.3 L833.9 125.7 L834.1 126.1 L834.3 126.8 L834.5 126.6 L834.7 125.3 L834.9 126.5 L835.1 128.3 L835.3 127.7 L835.5 126.6 L835.7 128.0 L835.9 128.7 L836.0 129.6 L836.2 129.1 L836.4 128.6 L836.6 127.6 L836.8 126.9 L837.0 124.5 L837.2 124.8 L837.4 124.3 L837.6 124.6 L837.8 122.8 L838.0 121.9 L838.1 122.6 L838.3 123.0 L838.5 123.3 L838.7 124.0 L838.9 123.9 L839.1 123.0 L839.3 124.5 L839.5 124.1 L839.7 122.0 L839.9 120.7 L840.1 120.8 L840.3 121.5 L840.4 122.3 L840.6 124.0 L840.8 122.9 L841.0 123.0 L841.2 123.7 L841.4 122.0 L841.6 119.2 L841.8 118.8 L842.0 116.2 L842.2 115.7 L842.4 114.6 L842.5 112.6 L842.7 111.8 L842.9 111.8 L843.1 113.9 L843.3 112.4 L843.5 111.8 L843.7 112.1 L843.9 110.4 L844.1 109.6 L844.3 108.7 L844.5 108.4 L844.6 108.9 L844.8 109.5 L845.0 110.4 L845.2 110.6 L845.4 111.2 L845.6 110.8 L845.8 111.4 L846.0 110.6 L846.2 109.2 L846.4 108.9 L846.6 107.9 L846.8 108.7 L846.9 109.9 L847.1 109.0 L847.3 109.4 L847.5 109.0 L847.7 109.0 L847.9 108.8 L848.1 107.9 L848.3 107.2 L848.5 107.7 L848.7 105.0 L848.9 103.9 L849.0 105.0 L849.2 105.0 L849.4 105.3 L849.6 106.2 L849.8 108.9 L850.0 108.6 L850.2 108.2 L850.4 109.5 L850.6 109.9 L850.8 109.4 L851.0 110.7 L851.2 109.5 L851.3 111.2 L851.5 111.7 L851.7 112.1 L851.9 110.9 L852.1 110.5 L852.3 110.2 L852.5 110.6 L852.7 110.1 L852.9 109.7 L853.1 108.6 L853.3 106.8 L853.5 107.6 L853.6 109.2 L853.8 110.9 L854.0 110.0 L854.2 110.5 L854.4 111.1 L854.6 110.0 L854.8 107.8 L855.0 106.6 L855.2 106.0 L855.4 105.9 L855.6 104.9 L855.8 105.4 L855.9 104.5 L856.1 105.3 L856.3 105.4 L856.5 105.3 L856.7 105.5 L856.9 105.6 L857.1 105.5 L857.3 106.9 L857.5 108.0 L857.7 108.2 L857.9 106.5 L858.1 106.7 L858.2 107.2 L858.4 107.5 L858.6 107.1 L858.8 106.3 L859.0 107.2 L859.2 107.0 L859.4 107.2 L859.6 107.9 L859.8 109.2 L860.0 109.0 L860.2 109.5 L860.4 108.7 L860.5 110.1 L860.7 108.7 L860.9 108.4 L861.1 108.2 L861.3 107.2 L861.5 107.0 L861.7 109.0 L861.9 109.4 L862.1 109.3 L862.3 110.6 L862.5 112.3 L862.7 112.5 L862.8 112.6 L863.0 113.4 L863.2 113.9 L863.4 114.7 L863.6 112.7 L863.8 110.1 L864.0 110.4 L864.2 113.3 L864.4 114.6 L864.6 114.1 L864.8 114.7 L865.0 115.5 L865.1 115.7 L865.3 117.6 L865.5 117.1 L865.7 117.1 L865.9 116.8 L866.1 114.9 L866.3 113.9 L866.5 114.2 L866.7 114.8 L866.9 114.3 L867.1 113.5 L867.3 112.4 L867.5 113.3 L867.6 112.9 L867.8 114.4 L868.0 113.2 L868.2 114.7 L868.4 116.0 L868.6 115.2 L868.8 114.6 L869.0 114.8 L869.2 115.1 L869.4 115.6 L869.6 115.9 L869.8 115.6 L869.9 114.7 L870.1 116.4 L870.3 118.0 L870.5 118.7 L870.7 118.8 L870.9 118.9 L871.1 118.0 L871.3 116.4 L871.5 114.8 L871.7 114.3 L871.9 114.3 L872.1 114.8 L872.2 114.0 L872.4 113.6 L872.6 114.4 L872.8 113.5 L873.0 113.0 L873.2 112.8 L873.4 112.4 L873.6 110.5 L873.8 110.7 L874.0 112.1 L874.2 112.6 L874.4 111.5 L874.5 109.2 L874.7 110.0 L874.9 110.1 L875.1 110.2 L875.3 111.7 L875.5 111.6 L875.7 111.9 L875.9 111.8 L876.1 109.9 L876.3 109.4 L876.5 107.9 L876.7 106.4 L876.8 107.0 L877.0 107.6 L877.2 106.1 L877.4 105.4 L877.6 105.2 L877.8 106.3 L878.0 105.7 L878.2 105.5 L878.4 103.7 L878.6 102.5 L878.8 102.1 L879.0 102.1 L879.1 102.3 L879.3 103.1 L879.5 103.5 L879.7 104.0 L879.9 104.1 L880.1 103.7 L880.3 104.1 L880.5 105.3 L880.7 105.2 L880.9 104.4 L881.1 105.8 L881.3 106.1 L881.5 106.1 L881.6 106.2 L881.8 106.4 L882.0 107.1 L882.2 106.4 L882.4 104.0 L882.6 101.5 L882.8 102.0 L883.0 103.7 L883.2 103.2 L883.4 103.8 L883.6 104.3 L883.8 105.8 L883.9 105.4 L884.1 105.4 L884.3 105.8 L884.5 106.3 L884.7 105.4 L884.9 105.3 L885.1 105.6 L885.3 107.3 L885.5 106.4 L885.7 106.2 L885.9 104.8 L886.1 104.5 L886.2 104.7 L886.4 104.5 L886.6 105.4 L886.8 104.9 L887.0 103.5 L887.2 104.0 L887.4 103.5 L887.6 105.2 L887.8 104.4 L888.0 103.0 L888.2 103.4 L888.4 101.2 L888.5 100.5 L888.7 101.6 L888.9 102.6 L889.1 101.5 L889.3 101.6 L889.5 100.2 L889.7 101.7 L889.9 101.8 L890.1 100.8 L890.3 101.5 L890.5 100.8 L890.7 101.1 L890.8 101.2 L891.0 101.4 L891.2 99.7 L891.4 101.3 L891.6 101.0 L891.8 100.0 L892.0 101.3 L892.2 101.4 L892.4 99.4 L892.6 98.6 L892.8 101.7 L893.0 101.5 L893.1 102.8 L893.3 102.0 L893.5 102.1 L893.7 102.1 L893.9 102.3 L894.1 101.4 L894.3 101.3 L894.5 101.6 L894.7 101.3 L894.9 100.4 L895.1 100.7 L895.3 99.1 L895.5 101.0 L895.6 101.0 L895.8 101.7 L896.0 100.5 L896.2 101.5 L896.4 102.2 L896.6 103.6 L896.8 101.7 L897.0 101.2 L897.2 102.3 L897.4 102.7 L897.6 103.7 L897.8 102.5 L897.9 102.4 L898.1 104.7 L898.3 104.8 L898.5 104.2 L898.7 104.4 L898.9 103.8 L899.1 103.7 L899.3 103.4 L899.5 103.0 L899.7 103.5 L899.9 102.9 L900.1 102.4 L900.2 102.2 L900.4 102.5 L900.6 103.2 L900.8 102.7 L901.0 101.6 L901.2 103.8 L901.4 104.3 L901.6 102.9 L901.8 101.9 L902.0 102.6 L902.2 101.2 L902.4 102.5 L902.5 103.6 L902.7 102.0 L902.9 102.8 L903.1 102.5 L903.3 103.6 L903.5 104.1 L903.7 104.4 L903.9 103.7 L904.1 104.7 L904.3 102.8 L904.5 102.3 L904.7 101.8 L904.8 101.3 L905.0 99.4 L905.2 98.4 L905.4 99.1 L905.6 98.0 L905.8 98.0 L906.0 98.3 L906.2 99.6 L906.4 102.7 L906.6 101.9 L906.8 102.2 L907.0 101.9 L907.1 103.8 L907.3 104.2 L907.5 104.1 L907.7 105.1 L907.9 105.0 L908.1 103.6 L908.3 103.5 L908.5 104.4 L908.7 101.2 L908.9 102.4 L909.1 102.4 L909.3 101.2 L909.5 100.9 L909.6 102.3 L909.8 102.9 L910.0 102.9 L910.2 104.5 L910.4 104.0 L910.6 104.3 L910.8 104.0 L911.0 106.3 L911.2 107.1 L911.4 106.0 L911.6 104.4 L911.8 103.6 L911.9 104.0 L912.1 104.3 L912.3 105.3 L912.5 105.0 L912.7 106.5 L912.9 107.2 L913.1 110.0 L913.3 111.8 L913.5 110.4 L913.7 110.6 L913.9 110.7 L914.1 114.0 L914.2 115.2 L914.4 114.4 L914.6 114.4 L914.8 115.2 L915.0 113.9 L915.2 113.0 L915.4 111.7 L915.6 111.5 L915.8 112.3 L916.0 113.0 L916.2 111.9 L916.4 113.8 L916.5 112.6 L916.7 113.3 L916.9 112.3 L917.1 112.4 L917.3 112.1 L917.5 110.9 L917.7 110.7 L917.9 110.8 L918.1 112.4 L918.3 112.3 L918.5 111.5 L918.7 112.0 L918.8 112.1 L919.0 113.7 L919.2 115.3 L919.4 115.2 L919.6 114.2 L919.8 113.2 L920.0 113.5 L920.2 112.5 L920.4 112.7 L920.6 113.6 L920.8 112.3 L921.0 112.6 L921.1 113.3 L921.3 112.6 L921.5 113.3 L921.7 113.2 L921.9 113.3 L922.1 113.2 L922.3 113.1 L922.5 110.9 L922.7 108.5 L922.9 109.2 L923.1 110.3 L923.3 111.9 L923.5 111.1 L923.6 111.8 L923.8 111.8 L924.0 111.1 L924.2 110.0 L924.4 110.4 L924.6 110.7 L924.8 110.1 L925.0 109.3 L925.2 108.5 L925.4 109.4 L925.6 111.0 L925.8 111.2 L925.9 111.9 L926.1 112.0 L926.3 113.6 L926.5 111.6 L926.7 113.1 L926.9 111.9 L927.1 111.6 L927.3 111.6 L927.5 112.2 L927.7 112.6 L927.9 112.5 L928.1 112.3 L928.2 113.2 L928.4 116.4 L928.6 117.9 L928.8 120.2 L929.0 123.8 L929.2 126.1 L929.4 125.7 L929.6 125.8 L929.8 123.9 L930.0 121.5 L930.2 121.7 L930.4 121.8 L930.5 120.9 L930.7 122.2 L930.9 123.1 L931.1 122.6 L931.3 122.2 L931.5 123.2 L931.7 124.5 L931.9 124.2 L932.1 125.5 L932.3 126.0 L932.5 126.2 L932.7 128.0 L932.8 126.8 L933.0 125.4 L933.2 123.8 L933.4 124.5 L933.6 124.9 L933.8 124.8 L934.0 125.2 L934.2 122.3 L934.4 122.4 L934.6 123.0 L934.8 123.0 L935.0 122.8 L935.1 121.7 L935.3 123.0 L935.5 121.6 L935.7 121.0 L935.9 121.6 L936.1 121.0 L936.3 121.4 L936.5 118.9 L936.7 118.7 L936.9 118.6 L937.1 118.1 L937.3 119.5 L937.5 121.2 L937.6 121.8 L937.8 122.7 L938.0 121.8 L938.2 121.5 L938.4 122.1 L938.6 122.5 L938.8 121.5 L939.0 122.7" fill="none" stroke="#151515" stroke-width="1.6" stroke-linejoin="round"/>
<path d="M24.0 481.0 L25.5 476.0 L26.9 470.3 L28.7 452.0 L30.5 434.0 L31.4 426.8 L32.1 430.6 L34.0 424.6 L37.0 422.0 L40.0 420.8 L45.0 420.8 L50.0 421.2 L55.0 419.3 L60.0 416.8 L63.0 415.5 L66.0 413.8 L68.0 412.6 L70.0 409.0 L71.5 404.0 L72.9 397.9 L74.3 383.9 L75.9 366.0 L77.9 355.0 L80.0 352.0 L81.9 350.5 L84.5 348.5 L87.0 346.8 L89.3 345.2 L91.5 345.5 L93.7 345.6 L95.9 343.6 L100.0 343.0 L106.6 343.1 L109.0 343.3 L115.3 341.0 L121.0 339.6 L124.3 339.4 L128.0 339.8 L133.4 340.7 L140.0 342.0 L147.9 343.4 L152.5 344.8 L160.6 346.7 L165.0 347.2 L178.7 348.5 L182.5 349.0 L196.8 349.9 L207.7 349.9 L215.0 348.5 L220.0 347.7 L230.0 346.3 L238.1 344.4 L245.0 343.2 L250.8 341.8 L253.0 340.5 L255.3 338.4 L258.0 337.6 L265.3 336.3 L272.0 335.0 L279.8 333.3 L286.0 331.5 L290.7 329.7 L293.4 327.9 L297.0 326.5 L301.5 324.3 L307.0 321.0 L311.0 319.3 L314.2 317.9 L316.5 315.8 L318.7 312.5 L321.0 308.0 L323.3 302.5 L325.0 299.5 L326.9 297.5 L328.7 296.4 L330.5 295.5 L332.0 292.8 L333.2 289.9 L335.9 281.7 L338.7 275.4 L341.0 272.8 L344.1 271.4 L346.0 269.6 L347.7 267.2 L350.0 263.5 L352.2 259.1 L354.0 255.0 L355.9 250.5 L357.5 243.0 L360.0 232.5 L362.5 226.2 L365.3 223.5 L368.9 224.3 L371.5 223.8 L374.3 222.5 L378.0 223.2 L381.6 223.9 L388.8 222.9 L397.9 223.8 L410.6 223.8 L417.0 224.2 L423.3 224.9 L428.7 227.4 L433.0 228.6 L437.8 229.4 L446.8 230.3 L454.1 229.7 L459.5 228.5 L464.9 226.1 L468.5 223.6 L472.2 221.6 L476.0 220.3 L480.0 219.4 L483.6 218.6 L492.6 218.8 L503.5 219.7 L509.0 219.0 L514.3 218.0 L518.0 219.0 L521.6 219.4 L527.0 218.6 L532.5 217.9 L541.5 216.7 L548.8 214.9 L557.8 213.4 L563.3 209.8 L568.7 204.3 L572.3 197.1 L575.0 189.9 L577.0 187.0 L579.6 185.3 L582.0 181.5 L585.0 176.3 L590.4 170.8 L594.0 167.6 L597.7 165.0 L601.0 165.5 L604.9 165.9 L611.3 166.3 L616.0 164.8 L620.0 163.0 L626.2 161.2 L629.5 159.3 L632.5 157.5 L636.0 156.6 L640.0 156.2 L650.0 156.8 L660.0 156.2 L670.0 157.0 L676.0 158.8 L680.0 160.0 L690.0 161.5 L700.0 162.5 L707.2 164.4 L714.5 165.1 L725.4 164.6 L736.2 163.9 L747.1 163.5 L759.8 163.4 L768.8 162.8 L776.1 161.2 L785.1 158.8 L792.4 157.0 L794.3 155.4 L796.0 153.4 L799.6 150.4 L804.0 149.0 L808.7 148.0 L817.8 145.9 L826.8 144.8 L835.9 143.6 L840.0 142.9 L842.9 142.0 L844.8 140.2 L846.5 138.2 L850.4 134.6 L854.5 132.7 L859.9 131.0 L866.7 130.0 L873.5 129.8 L877.0 128.9 L880.3 127.6 L887.1 125.9 L892.5 123.9 L899.3 122.4 L906.1 120.9 L911.5 119.8 L918.3 119.4 L925.1 119.5 L931.9 120.2 L939.4 120.8" fill="none" stroke="#e8a270" stroke-width="1.45" stroke-linejoin="round"/>
<line x1="413" x2="428.3" y1="57.7" y2="57.7" stroke="#383838" stroke-width="1.7"/>
<line x1="519.5" x2="535" y1="57.7" y2="57.7" stroke="#e9a877" stroke-width="1.7"/>
<rect x="944.7" y="108" width="41.3" height="22.4" fill="#d97632"/>
<text x="949" y="123.7" class="tag">72.3K</text>
<text transform="translate(991.8,302.3) rotate(90)" text-anchor="middle" class="at">Price ($)</text>
</svg>
</body></html>
